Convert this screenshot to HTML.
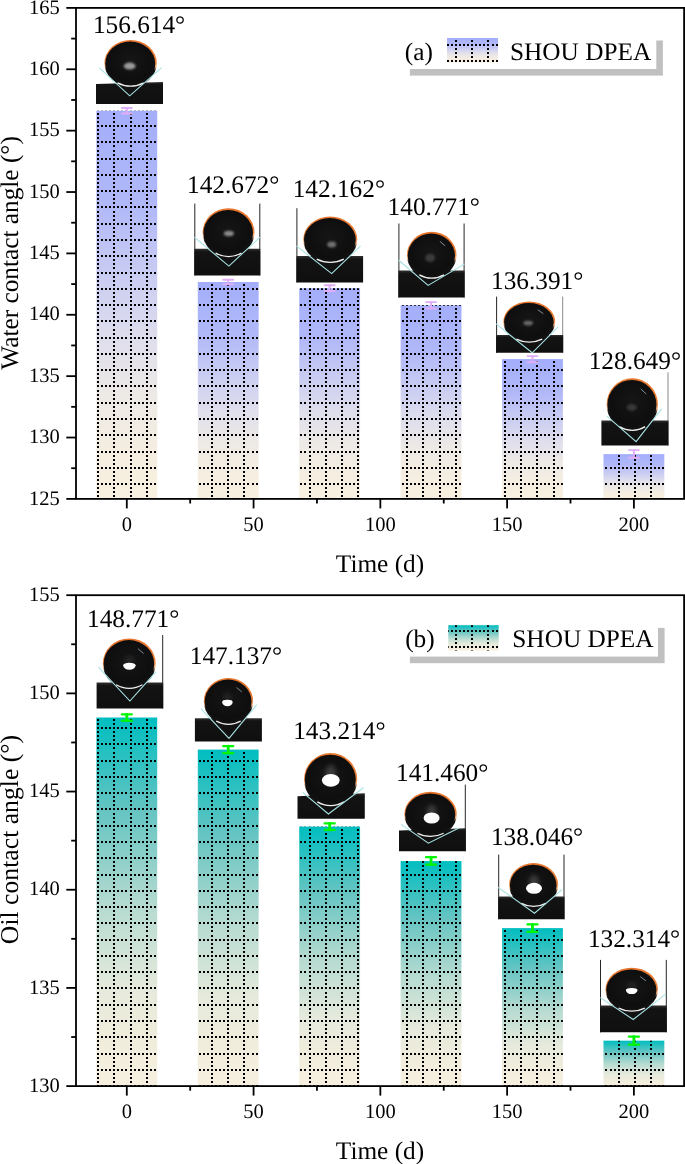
<!DOCTYPE html>
<html><head><meta charset="utf-8"><title>Contact angle</title>
<style>html,body{margin:0;padding:0;background:#fff;width:685px;height:1164px;overflow:hidden} text{text-rendering:geometricPrecision}</style>
</head><body>
<svg width="685" height="1164" viewBox="0 0 685 1164" style="display:block"><defs>
<pattern id="dots" patternUnits="userSpaceOnUse" x="-0.470" y="11.390" width="16.27" height="16.27"><g fill="#000"><rect x="0.000" y="0" width="1.7" height="1.7"/><rect x="4.067" y="0" width="1.7" height="1.7"/><rect x="8.135" y="0" width="1.7" height="1.7"/><rect x="12.203" y="0" width="1.7" height="1.7"/><rect x="0" y="4.067" width="1.7" height="1.7"/><rect x="0" y="8.135" width="1.7" height="1.7"/><rect x="0" y="12.203" width="1.7" height="1.7"/></g></pattern>
<linearGradient id="ga" x1="0" y1="0" x2="0" y2="1"><stop offset="0" stop-color="#a3adfb"/><stop offset="0.12" stop-color="#aab4fa"/><stop offset="0.24" stop-color="#b0b8f8"/><stop offset="0.476" stop-color="#d0d2f0"/><stop offset="0.6" stop-color="#e0dfec"/><stop offset="0.735" stop-color="#ede9e5"/><stop offset="0.89" stop-color="#f5eee1"/><stop offset="1" stop-color="#f8f1e0"/></linearGradient>
<linearGradient id="gb" x1="0" y1="0" x2="0" y2="1"><stop offset="0" stop-color="#00bec0"/><stop offset="0.25" stop-color="#64c4c2"/><stop offset="0.506" stop-color="#b4dad0"/><stop offset="0.74" stop-color="#e6eadc"/><stop offset="0.87" stop-color="#f0ecdb"/><stop offset="1" stop-color="#f7f0e0"/></linearGradient>
<filter id="blur1" x="-50%" y="-50%" width="200%" height="200%"><feGaussianBlur stdDeviation="1.2"/></filter>
<filter id="blur05" x="-50%" y="-50%" width="200%" height="200%"><feGaussianBlur stdDeviation="0.6"/></filter>
<radialGradient id="dropg" cx="0.5" cy="0.45" r="0.55"><stop offset="0" stop-color="#161616"/><stop offset="0.8" stop-color="#0e0e0e"/><stop offset="1" stop-color="#121212"/></radialGradient>
<linearGradient id="subg" x1="0" y1="0" x2="0" y2="1"><stop offset="0" stop-color="#303030"/><stop offset="0.12" stop-color="#131313"/><stop offset="1" stop-color="#0f0f0f"/></linearGradient>
<linearGradient id="rimg" x1="0" y1="0" x2="0" y2="1"><stop offset="0" stop-color="#e8732a"/><stop offset="0.45" stop-color="#ea7e34"/><stop offset="0.58" stop-color="#f0b080"/><stop offset="0.66" stop-color="#101010"/></linearGradient>
<filter id="blur2" x="-80%" y="-80%" width="260%" height="260%"><feGaussianBlur stdDeviation="2"/></filter>
<filter id="blur03" x="-50%" y="-50%" width="200%" height="200%"><feGaussianBlur stdDeviation="0.35"/></filter>
</defs>
<rect width="685" height="1164" fill="#fff"/>
<rect x="96.37" y="110.84" width="60.85" height="388.06" fill="url(#ga)"/>
<path d="M97 110.84h2v0.16h-2zM97 113h2v2h-2zM97 117h2v2h-2zM97 121h2v2h-2zM97 125h2v2h-2zM97 129h2v2h-2zM97 133h2v2h-2zM97 137h2v2h-2zM97 141h2v2h-2zM97 145h2v2h-2zM97 150h2v2h-2zM97 154h2v2h-2zM97 158h2v2h-2zM97 162h2v2h-2zM97 166h2v2h-2zM97 170h2v2h-2zM97 174h2v2h-2zM97 178h2v2h-2zM97 182h2v2h-2zM97 186h2v2h-2zM97 190h2v2h-2zM97 194h2v2h-2zM97 198h2v2h-2zM97 202h2v2h-2zM97 206h2v2h-2zM97 211h2v2h-2zM97 215h2v2h-2zM97 219h2v2h-2zM97 223h2v2h-2zM97 227h2v2h-2zM97 231h2v2h-2zM97 235h2v2h-2zM97 239h2v2h-2zM97 243h2v2h-2zM97 247h2v2h-2zM97 251h2v2h-2zM97 255h2v2h-2zM97 259h2v2h-2zM97 263h2v2h-2zM97 267h2v2h-2zM97 272h2v2h-2zM97 276h2v2h-2zM97 280h2v2h-2zM97 284h2v2h-2zM97 288h2v2h-2zM97 292h2v2h-2zM97 296h2v2h-2zM97 300h2v2h-2zM97 304h2v2h-2zM97 308h2v2h-2zM97 312h2v2h-2zM97 316h2v2h-2zM97 320h2v2h-2zM97 324h2v2h-2zM97 329h2v2h-2zM97 333h2v2h-2zM97 337h2v2h-2zM97 341h2v2h-2zM97 345h2v2h-2zM97 349h2v2h-2zM97 353h2v2h-2zM97 357h2v2h-2zM97 361h2v2h-2zM97 365h2v2h-2zM97 369h2v2h-2zM97 373h2v2h-2zM97 377h2v2h-2zM97 381h2v2h-2zM97 385h2v2h-2zM97 390h2v2h-2zM97 394h2v2h-2zM97 398h2v2h-2zM97 402h2v2h-2zM97 406h2v2h-2zM97 410h2v2h-2zM97 414h2v2h-2zM97 418h2v2h-2zM97 422h2v2h-2zM97 426h2v2h-2zM97 430h2v2h-2zM97 434h2v2h-2zM97 438h2v2h-2zM97 442h2v2h-2zM97 446h2v2h-2zM97 451h2v2h-2zM97 455h2v2h-2zM97 459h2v2h-2zM97 463h2v2h-2zM97 467h2v2h-2zM97 471h2v2h-2zM97 475h2v2h-2zM97 479h2v2h-2zM97 483h2v2h-2zM97 487h2v2h-2zM97 491h2v2h-2zM97 495h2v2h-2zM101 110.84h2v0.16h-2zM101 125h2v2h-2zM101 141h2v2h-2zM101 158h2v2h-2zM101 174h2v2h-2zM101 190h2v2h-2zM101 206h2v2h-2zM101 223h2v2h-2zM101 239h2v2h-2zM101 255h2v2h-2zM101 272h2v2h-2zM101 288h2v2h-2zM101 304h2v2h-2zM101 320h2v2h-2zM101 337h2v2h-2zM101 353h2v2h-2zM101 369h2v2h-2zM101 385h2v2h-2zM101 402h2v2h-2zM101 418h2v2h-2zM101 434h2v2h-2zM101 451h2v2h-2zM101 467h2v2h-2zM101 483h2v2h-2zM105 110.84h2v0.16h-2zM105 125h2v2h-2zM105 141h2v2h-2zM105 158h2v2h-2zM105 174h2v2h-2zM105 190h2v2h-2zM105 206h2v2h-2zM105 223h2v2h-2zM105 239h2v2h-2zM105 255h2v2h-2zM105 272h2v2h-2zM105 288h2v2h-2zM105 304h2v2h-2zM105 320h2v2h-2zM105 337h2v2h-2zM105 353h2v2h-2zM105 369h2v2h-2zM105 385h2v2h-2zM105 402h2v2h-2zM105 418h2v2h-2zM105 434h2v2h-2zM105 451h2v2h-2zM105 467h2v2h-2zM105 483h2v2h-2zM109 110.84h2v0.16h-2zM109 125h2v2h-2zM109 141h2v2h-2zM109 158h2v2h-2zM109 174h2v2h-2zM109 190h2v2h-2zM109 206h2v2h-2zM109 223h2v2h-2zM109 239h2v2h-2zM109 255h2v2h-2zM109 272h2v2h-2zM109 288h2v2h-2zM109 304h2v2h-2zM109 320h2v2h-2zM109 337h2v2h-2zM109 353h2v2h-2zM109 369h2v2h-2zM109 385h2v2h-2zM109 402h2v2h-2zM109 418h2v2h-2zM109 434h2v2h-2zM109 451h2v2h-2zM109 467h2v2h-2zM109 483h2v2h-2zM113 110.84h2v0.16h-2zM113 113h2v2h-2zM113 117h2v2h-2zM113 121h2v2h-2zM113 125h2v2h-2zM113 129h2v2h-2zM113 133h2v2h-2zM113 137h2v2h-2zM113 141h2v2h-2zM113 145h2v2h-2zM113 150h2v2h-2zM113 154h2v2h-2zM113 158h2v2h-2zM113 162h2v2h-2zM113 166h2v2h-2zM113 170h2v2h-2zM113 174h2v2h-2zM113 178h2v2h-2zM113 182h2v2h-2zM113 186h2v2h-2zM113 190h2v2h-2zM113 194h2v2h-2zM113 198h2v2h-2zM113 202h2v2h-2zM113 206h2v2h-2zM113 211h2v2h-2zM113 215h2v2h-2zM113 219h2v2h-2zM113 223h2v2h-2zM113 227h2v2h-2zM113 231h2v2h-2zM113 235h2v2h-2zM113 239h2v2h-2zM113 243h2v2h-2zM113 247h2v2h-2zM113 251h2v2h-2zM113 255h2v2h-2zM113 259h2v2h-2zM113 263h2v2h-2zM113 267h2v2h-2zM113 272h2v2h-2zM113 276h2v2h-2zM113 280h2v2h-2zM113 284h2v2h-2zM113 288h2v2h-2zM113 292h2v2h-2zM113 296h2v2h-2zM113 300h2v2h-2zM113 304h2v2h-2zM113 308h2v2h-2zM113 312h2v2h-2zM113 316h2v2h-2zM113 320h2v2h-2zM113 324h2v2h-2zM113 329h2v2h-2zM113 333h2v2h-2zM113 337h2v2h-2zM113 341h2v2h-2zM113 345h2v2h-2zM113 349h2v2h-2zM113 353h2v2h-2zM113 357h2v2h-2zM113 361h2v2h-2zM113 365h2v2h-2zM113 369h2v2h-2zM113 373h2v2h-2zM113 377h2v2h-2zM113 381h2v2h-2zM113 385h2v2h-2zM113 390h2v2h-2zM113 394h2v2h-2zM113 398h2v2h-2zM113 402h2v2h-2zM113 406h2v2h-2zM113 410h2v2h-2zM113 414h2v2h-2zM113 418h2v2h-2zM113 422h2v2h-2zM113 426h2v2h-2zM113 430h2v2h-2zM113 434h2v2h-2zM113 438h2v2h-2zM113 442h2v2h-2zM113 446h2v2h-2zM113 451h2v2h-2zM113 455h2v2h-2zM113 459h2v2h-2zM113 463h2v2h-2zM113 467h2v2h-2zM113 471h2v2h-2zM113 475h2v2h-2zM113 479h2v2h-2zM113 483h2v2h-2zM113 487h2v2h-2zM113 491h2v2h-2zM113 495h2v2h-2zM117 110.84h2v0.16h-2zM117 125h2v2h-2zM117 141h2v2h-2zM117 158h2v2h-2zM117 174h2v2h-2zM117 190h2v2h-2zM117 206h2v2h-2zM117 223h2v2h-2zM117 239h2v2h-2zM117 255h2v2h-2zM117 272h2v2h-2zM117 288h2v2h-2zM117 304h2v2h-2zM117 320h2v2h-2zM117 337h2v2h-2zM117 353h2v2h-2zM117 369h2v2h-2zM117 385h2v2h-2zM117 402h2v2h-2zM117 418h2v2h-2zM117 434h2v2h-2zM117 451h2v2h-2zM117 467h2v2h-2zM117 483h2v2h-2zM121 110.84h2v0.16h-2zM121 125h2v2h-2zM121 141h2v2h-2zM121 158h2v2h-2zM121 174h2v2h-2zM121 190h2v2h-2zM121 206h2v2h-2zM121 223h2v2h-2zM121 239h2v2h-2zM121 255h2v2h-2zM121 272h2v2h-2zM121 288h2v2h-2zM121 304h2v2h-2zM121 320h2v2h-2zM121 337h2v2h-2zM121 353h2v2h-2zM121 369h2v2h-2zM121 385h2v2h-2zM121 402h2v2h-2zM121 418h2v2h-2zM121 434h2v2h-2zM121 451h2v2h-2zM121 467h2v2h-2zM121 483h2v2h-2zM125 110.84h2v0.16h-2zM125 125h2v2h-2zM125 141h2v2h-2zM125 158h2v2h-2zM125 174h2v2h-2zM125 190h2v2h-2zM125 206h2v2h-2zM125 223h2v2h-2zM125 239h2v2h-2zM125 255h2v2h-2zM125 272h2v2h-2zM125 288h2v2h-2zM125 304h2v2h-2zM125 320h2v2h-2zM125 337h2v2h-2zM125 353h2v2h-2zM125 369h2v2h-2zM125 385h2v2h-2zM125 402h2v2h-2zM125 418h2v2h-2zM125 434h2v2h-2zM125 451h2v2h-2zM125 467h2v2h-2zM125 483h2v2h-2zM130 110.84h2v0.16h-2zM130 113h2v2h-2zM130 117h2v2h-2zM130 121h2v2h-2zM130 125h2v2h-2zM130 129h2v2h-2zM130 133h2v2h-2zM130 137h2v2h-2zM130 141h2v2h-2zM130 145h2v2h-2zM130 150h2v2h-2zM130 154h2v2h-2zM130 158h2v2h-2zM130 162h2v2h-2zM130 166h2v2h-2zM130 170h2v2h-2zM130 174h2v2h-2zM130 178h2v2h-2zM130 182h2v2h-2zM130 186h2v2h-2zM130 190h2v2h-2zM130 194h2v2h-2zM130 198h2v2h-2zM130 202h2v2h-2zM130 206h2v2h-2zM130 211h2v2h-2zM130 215h2v2h-2zM130 219h2v2h-2zM130 223h2v2h-2zM130 227h2v2h-2zM130 231h2v2h-2zM130 235h2v2h-2zM130 239h2v2h-2zM130 243h2v2h-2zM130 247h2v2h-2zM130 251h2v2h-2zM130 255h2v2h-2zM130 259h2v2h-2zM130 263h2v2h-2zM130 267h2v2h-2zM130 272h2v2h-2zM130 276h2v2h-2zM130 280h2v2h-2zM130 284h2v2h-2zM130 288h2v2h-2zM130 292h2v2h-2zM130 296h2v2h-2zM130 300h2v2h-2zM130 304h2v2h-2zM130 308h2v2h-2zM130 312h2v2h-2zM130 316h2v2h-2zM130 320h2v2h-2zM130 324h2v2h-2zM130 329h2v2h-2zM130 333h2v2h-2zM130 337h2v2h-2zM130 341h2v2h-2zM130 345h2v2h-2zM130 349h2v2h-2zM130 353h2v2h-2zM130 357h2v2h-2zM130 361h2v2h-2zM130 365h2v2h-2zM130 369h2v2h-2zM130 373h2v2h-2zM130 377h2v2h-2zM130 381h2v2h-2zM130 385h2v2h-2zM130 390h2v2h-2zM130 394h2v2h-2zM130 398h2v2h-2zM130 402h2v2h-2zM130 406h2v2h-2zM130 410h2v2h-2zM130 414h2v2h-2zM130 418h2v2h-2zM130 422h2v2h-2zM130 426h2v2h-2zM130 430h2v2h-2zM130 434h2v2h-2zM130 438h2v2h-2zM130 442h2v2h-2zM130 446h2v2h-2zM130 451h2v2h-2zM130 455h2v2h-2zM130 459h2v2h-2zM130 463h2v2h-2zM130 467h2v2h-2zM130 471h2v2h-2zM130 475h2v2h-2zM130 479h2v2h-2zM130 483h2v2h-2zM130 487h2v2h-2zM130 491h2v2h-2zM130 495h2v2h-2zM134 110.84h2v0.16h-2zM134 125h2v2h-2zM134 141h2v2h-2zM134 158h2v2h-2zM134 174h2v2h-2zM134 190h2v2h-2zM134 206h2v2h-2zM134 223h2v2h-2zM134 239h2v2h-2zM134 255h2v2h-2zM134 272h2v2h-2zM134 288h2v2h-2zM134 304h2v2h-2zM134 320h2v2h-2zM134 337h2v2h-2zM134 353h2v2h-2zM134 369h2v2h-2zM134 385h2v2h-2zM134 402h2v2h-2zM134 418h2v2h-2zM134 434h2v2h-2zM134 451h2v2h-2zM134 467h2v2h-2zM134 483h2v2h-2zM138 110.84h2v0.16h-2zM138 125h2v2h-2zM138 141h2v2h-2zM138 158h2v2h-2zM138 174h2v2h-2zM138 190h2v2h-2zM138 206h2v2h-2zM138 223h2v2h-2zM138 239h2v2h-2zM138 255h2v2h-2zM138 272h2v2h-2zM138 288h2v2h-2zM138 304h2v2h-2zM138 320h2v2h-2zM138 337h2v2h-2zM138 353h2v2h-2zM138 369h2v2h-2zM138 385h2v2h-2zM138 402h2v2h-2zM138 418h2v2h-2zM138 434h2v2h-2zM138 451h2v2h-2zM138 467h2v2h-2zM138 483h2v2h-2zM142 110.84h2v0.16h-2zM142 125h2v2h-2zM142 141h2v2h-2zM142 158h2v2h-2zM142 174h2v2h-2zM142 190h2v2h-2zM142 206h2v2h-2zM142 223h2v2h-2zM142 239h2v2h-2zM142 255h2v2h-2zM142 272h2v2h-2zM142 288h2v2h-2zM142 304h2v2h-2zM142 320h2v2h-2zM142 337h2v2h-2zM142 353h2v2h-2zM142 369h2v2h-2zM142 385h2v2h-2zM142 402h2v2h-2zM142 418h2v2h-2zM142 434h2v2h-2zM142 451h2v2h-2zM142 467h2v2h-2zM142 483h2v2h-2zM146 110.84h2v0.16h-2zM146 113h2v2h-2zM146 117h2v2h-2zM146 121h2v2h-2zM146 125h2v2h-2zM146 129h2v2h-2zM146 133h2v2h-2zM146 137h2v2h-2zM146 141h2v2h-2zM146 145h2v2h-2zM146 150h2v2h-2zM146 154h2v2h-2zM146 158h2v2h-2zM146 162h2v2h-2zM146 166h2v2h-2zM146 170h2v2h-2zM146 174h2v2h-2zM146 178h2v2h-2zM146 182h2v2h-2zM146 186h2v2h-2zM146 190h2v2h-2zM146 194h2v2h-2zM146 198h2v2h-2zM146 202h2v2h-2zM146 206h2v2h-2zM146 211h2v2h-2zM146 215h2v2h-2zM146 219h2v2h-2zM146 223h2v2h-2zM146 227h2v2h-2zM146 231h2v2h-2zM146 235h2v2h-2zM146 239h2v2h-2zM146 243h2v2h-2zM146 247h2v2h-2zM146 251h2v2h-2zM146 255h2v2h-2zM146 259h2v2h-2zM146 263h2v2h-2zM146 267h2v2h-2zM146 272h2v2h-2zM146 276h2v2h-2zM146 280h2v2h-2zM146 284h2v2h-2zM146 288h2v2h-2zM146 292h2v2h-2zM146 296h2v2h-2zM146 300h2v2h-2zM146 304h2v2h-2zM146 308h2v2h-2zM146 312h2v2h-2zM146 316h2v2h-2zM146 320h2v2h-2zM146 324h2v2h-2zM146 329h2v2h-2zM146 333h2v2h-2zM146 337h2v2h-2zM146 341h2v2h-2zM146 345h2v2h-2zM146 349h2v2h-2zM146 353h2v2h-2zM146 357h2v2h-2zM146 361h2v2h-2zM146 365h2v2h-2zM146 369h2v2h-2zM146 373h2v2h-2zM146 377h2v2h-2zM146 381h2v2h-2zM146 385h2v2h-2zM146 390h2v2h-2zM146 394h2v2h-2zM146 398h2v2h-2zM146 402h2v2h-2zM146 406h2v2h-2zM146 410h2v2h-2zM146 414h2v2h-2zM146 418h2v2h-2zM146 422h2v2h-2zM146 426h2v2h-2zM146 430h2v2h-2zM146 434h2v2h-2zM146 438h2v2h-2zM146 442h2v2h-2zM146 446h2v2h-2zM146 451h2v2h-2zM146 455h2v2h-2zM146 459h2v2h-2zM146 463h2v2h-2zM146 467h2v2h-2zM146 471h2v2h-2zM146 475h2v2h-2zM146 479h2v2h-2zM146 483h2v2h-2zM146 487h2v2h-2zM146 491h2v2h-2zM146 495h2v2h-2zM150 110.84h2v0.16h-2zM150 125h2v2h-2zM150 141h2v2h-2zM150 158h2v2h-2zM150 174h2v2h-2zM150 190h2v2h-2zM150 206h2v2h-2zM150 223h2v2h-2zM150 239h2v2h-2zM150 255h2v2h-2zM150 272h2v2h-2zM150 288h2v2h-2zM150 304h2v2h-2zM150 320h2v2h-2zM150 337h2v2h-2zM150 353h2v2h-2zM150 369h2v2h-2zM150 385h2v2h-2zM150 402h2v2h-2zM150 418h2v2h-2zM150 434h2v2h-2zM150 451h2v2h-2zM150 467h2v2h-2zM150 483h2v2h-2zM154 110.84h2v0.16h-2zM154 125h2v2h-2zM154 141h2v2h-2zM154 158h2v2h-2zM154 174h2v2h-2zM154 190h2v2h-2zM154 206h2v2h-2zM154 223h2v2h-2zM154 239h2v2h-2zM154 255h2v2h-2zM154 272h2v2h-2zM154 288h2v2h-2zM154 304h2v2h-2zM154 320h2v2h-2zM154 337h2v2h-2zM154 353h2v2h-2zM154 369h2v2h-2zM154 385h2v2h-2zM154 402h2v2h-2zM154 418h2v2h-2zM154 434h2v2h-2zM154 451h2v2h-2zM154 467h2v2h-2zM154 483h2v2h-2z" fill="#000"/>
<rect x="197.79" y="281.98" width="60.85" height="216.92" fill="url(#ga)"/>
<path d="M199 288h2v2h-2zM199 304h2v2h-2zM199 320h2v2h-2zM199 337h2v2h-2zM199 353h2v2h-2zM199 369h2v2h-2zM199 385h2v2h-2zM199 402h2v2h-2zM199 418h2v2h-2zM199 434h2v2h-2zM199 451h2v2h-2zM199 467h2v2h-2zM199 483h2v2h-2zM203 288h2v2h-2zM203 304h2v2h-2zM203 320h2v2h-2zM203 337h2v2h-2zM203 353h2v2h-2zM203 369h2v2h-2zM203 385h2v2h-2zM203 402h2v2h-2zM203 418h2v2h-2zM203 434h2v2h-2zM203 451h2v2h-2zM203 467h2v2h-2zM203 483h2v2h-2zM207 288h2v2h-2zM207 304h2v2h-2zM207 320h2v2h-2zM207 337h2v2h-2zM207 353h2v2h-2zM207 369h2v2h-2zM207 385h2v2h-2zM207 402h2v2h-2zM207 418h2v2h-2zM207 434h2v2h-2zM207 451h2v2h-2zM207 467h2v2h-2zM207 483h2v2h-2zM211 284h2v2h-2zM211 288h2v2h-2zM211 292h2v2h-2zM211 296h2v2h-2zM211 300h2v2h-2zM211 304h2v2h-2zM211 308h2v2h-2zM211 312h2v2h-2zM211 316h2v2h-2zM211 320h2v2h-2zM211 324h2v2h-2zM211 329h2v2h-2zM211 333h2v2h-2zM211 337h2v2h-2zM211 341h2v2h-2zM211 345h2v2h-2zM211 349h2v2h-2zM211 353h2v2h-2zM211 357h2v2h-2zM211 361h2v2h-2zM211 365h2v2h-2zM211 369h2v2h-2zM211 373h2v2h-2zM211 377h2v2h-2zM211 381h2v2h-2zM211 385h2v2h-2zM211 390h2v2h-2zM211 394h2v2h-2zM211 398h2v2h-2zM211 402h2v2h-2zM211 406h2v2h-2zM211 410h2v2h-2zM211 414h2v2h-2zM211 418h2v2h-2zM211 422h2v2h-2zM211 426h2v2h-2zM211 430h2v2h-2zM211 434h2v2h-2zM211 438h2v2h-2zM211 442h2v2h-2zM211 446h2v2h-2zM211 451h2v2h-2zM211 455h2v2h-2zM211 459h2v2h-2zM211 463h2v2h-2zM211 467h2v2h-2zM211 471h2v2h-2zM211 475h2v2h-2zM211 479h2v2h-2zM211 483h2v2h-2zM211 487h2v2h-2zM211 491h2v2h-2zM211 495h2v2h-2zM215 288h2v2h-2zM215 304h2v2h-2zM215 320h2v2h-2zM215 337h2v2h-2zM215 353h2v2h-2zM215 369h2v2h-2zM215 385h2v2h-2zM215 402h2v2h-2zM215 418h2v2h-2zM215 434h2v2h-2zM215 451h2v2h-2zM215 467h2v2h-2zM215 483h2v2h-2zM219 288h2v2h-2zM219 304h2v2h-2zM219 320h2v2h-2zM219 337h2v2h-2zM219 353h2v2h-2zM219 369h2v2h-2zM219 385h2v2h-2zM219 402h2v2h-2zM219 418h2v2h-2zM219 434h2v2h-2zM219 451h2v2h-2zM219 467h2v2h-2zM219 483h2v2h-2zM223 288h2v2h-2zM223 304h2v2h-2zM223 320h2v2h-2zM223 337h2v2h-2zM223 353h2v2h-2zM223 369h2v2h-2zM223 385h2v2h-2zM223 402h2v2h-2zM223 418h2v2h-2zM223 434h2v2h-2zM223 451h2v2h-2zM223 467h2v2h-2zM223 483h2v2h-2zM227 284h2v2h-2zM227 288h2v2h-2zM227 292h2v2h-2zM227 296h2v2h-2zM227 300h2v2h-2zM227 304h2v2h-2zM227 308h2v2h-2zM227 312h2v2h-2zM227 316h2v2h-2zM227 320h2v2h-2zM227 324h2v2h-2zM227 329h2v2h-2zM227 333h2v2h-2zM227 337h2v2h-2zM227 341h2v2h-2zM227 345h2v2h-2zM227 349h2v2h-2zM227 353h2v2h-2zM227 357h2v2h-2zM227 361h2v2h-2zM227 365h2v2h-2zM227 369h2v2h-2zM227 373h2v2h-2zM227 377h2v2h-2zM227 381h2v2h-2zM227 385h2v2h-2zM227 390h2v2h-2zM227 394h2v2h-2zM227 398h2v2h-2zM227 402h2v2h-2zM227 406h2v2h-2zM227 410h2v2h-2zM227 414h2v2h-2zM227 418h2v2h-2zM227 422h2v2h-2zM227 426h2v2h-2zM227 430h2v2h-2zM227 434h2v2h-2zM227 438h2v2h-2zM227 442h2v2h-2zM227 446h2v2h-2zM227 451h2v2h-2zM227 455h2v2h-2zM227 459h2v2h-2zM227 463h2v2h-2zM227 467h2v2h-2zM227 471h2v2h-2zM227 475h2v2h-2zM227 479h2v2h-2zM227 483h2v2h-2zM227 487h2v2h-2zM227 491h2v2h-2zM227 495h2v2h-2zM231 288h2v2h-2zM231 304h2v2h-2zM231 320h2v2h-2zM231 337h2v2h-2zM231 353h2v2h-2zM231 369h2v2h-2zM231 385h2v2h-2zM231 402h2v2h-2zM231 418h2v2h-2zM231 434h2v2h-2zM231 451h2v2h-2zM231 467h2v2h-2zM231 483h2v2h-2zM235 288h2v2h-2zM235 304h2v2h-2zM235 320h2v2h-2zM235 337h2v2h-2zM235 353h2v2h-2zM235 369h2v2h-2zM235 385h2v2h-2zM235 402h2v2h-2zM235 418h2v2h-2zM235 434h2v2h-2zM235 451h2v2h-2zM235 467h2v2h-2zM235 483h2v2h-2zM239 288h2v2h-2zM239 304h2v2h-2zM239 320h2v2h-2zM239 337h2v2h-2zM239 353h2v2h-2zM239 369h2v2h-2zM239 385h2v2h-2zM239 402h2v2h-2zM239 418h2v2h-2zM239 434h2v2h-2zM239 451h2v2h-2zM239 467h2v2h-2zM239 483h2v2h-2zM243 284h2v2h-2zM243 288h2v2h-2zM243 292h2v2h-2zM243 296h2v2h-2zM243 300h2v2h-2zM243 304h2v2h-2zM243 308h2v2h-2zM243 312h2v2h-2zM243 316h2v2h-2zM243 320h2v2h-2zM243 324h2v2h-2zM243 329h2v2h-2zM243 333h2v2h-2zM243 337h2v2h-2zM243 341h2v2h-2zM243 345h2v2h-2zM243 349h2v2h-2zM243 353h2v2h-2zM243 357h2v2h-2zM243 361h2v2h-2zM243 365h2v2h-2zM243 369h2v2h-2zM243 373h2v2h-2zM243 377h2v2h-2zM243 381h2v2h-2zM243 385h2v2h-2zM243 390h2v2h-2zM243 394h2v2h-2zM243 398h2v2h-2zM243 402h2v2h-2zM243 406h2v2h-2zM243 410h2v2h-2zM243 414h2v2h-2zM243 418h2v2h-2zM243 422h2v2h-2zM243 426h2v2h-2zM243 430h2v2h-2zM243 434h2v2h-2zM243 438h2v2h-2zM243 442h2v2h-2zM243 446h2v2h-2zM243 451h2v2h-2zM243 455h2v2h-2zM243 459h2v2h-2zM243 463h2v2h-2zM243 467h2v2h-2zM243 471h2v2h-2zM243 475h2v2h-2zM243 479h2v2h-2zM243 483h2v2h-2zM243 487h2v2h-2zM243 491h2v2h-2zM243 495h2v2h-2zM247 288h2v2h-2zM247 304h2v2h-2zM247 320h2v2h-2zM247 337h2v2h-2zM247 353h2v2h-2zM247 369h2v2h-2zM247 385h2v2h-2zM247 402h2v2h-2zM247 418h2v2h-2zM247 434h2v2h-2zM247 451h2v2h-2zM247 467h2v2h-2zM247 483h2v2h-2zM252 288h2v2h-2zM252 304h2v2h-2zM252 320h2v2h-2zM252 337h2v2h-2zM252 353h2v2h-2zM252 369h2v2h-2zM252 385h2v2h-2zM252 402h2v2h-2zM252 418h2v2h-2zM252 434h2v2h-2zM252 451h2v2h-2zM252 467h2v2h-2zM252 483h2v2h-2zM256 288h2v2h-2zM256 304h2v2h-2zM256 320h2v2h-2zM256 337h2v2h-2zM256 353h2v2h-2zM256 369h2v2h-2zM256 385h2v2h-2zM256 402h2v2h-2zM256 418h2v2h-2zM256 434h2v2h-2zM256 451h2v2h-2zM256 467h2v2h-2zM256 483h2v2h-2z" fill="#000"/>
<rect x="299.21" y="288.24" width="60.85" height="210.66" fill="url(#ga)"/>
<path d="M300 288.24h2v1.76h-2zM300 304h2v2h-2zM300 320h2v2h-2zM300 337h2v2h-2zM300 353h2v2h-2zM300 369h2v2h-2zM300 385h2v2h-2zM300 402h2v2h-2zM300 418h2v2h-2zM300 434h2v2h-2zM300 451h2v2h-2zM300 467h2v2h-2zM300 483h2v2h-2zM304 288.24h2v1.76h-2zM304 304h2v2h-2zM304 320h2v2h-2zM304 337h2v2h-2zM304 353h2v2h-2zM304 369h2v2h-2zM304 385h2v2h-2zM304 402h2v2h-2zM304 418h2v2h-2zM304 434h2v2h-2zM304 451h2v2h-2zM304 467h2v2h-2zM304 483h2v2h-2zM309 288.24h2v1.76h-2zM309 292h2v2h-2zM309 296h2v2h-2zM309 300h2v2h-2zM309 304h2v2h-2zM309 308h2v2h-2zM309 312h2v2h-2zM309 316h2v2h-2zM309 320h2v2h-2zM309 324h2v2h-2zM309 329h2v2h-2zM309 333h2v2h-2zM309 337h2v2h-2zM309 341h2v2h-2zM309 345h2v2h-2zM309 349h2v2h-2zM309 353h2v2h-2zM309 357h2v2h-2zM309 361h2v2h-2zM309 365h2v2h-2zM309 369h2v2h-2zM309 373h2v2h-2zM309 377h2v2h-2zM309 381h2v2h-2zM309 385h2v2h-2zM309 390h2v2h-2zM309 394h2v2h-2zM309 398h2v2h-2zM309 402h2v2h-2zM309 406h2v2h-2zM309 410h2v2h-2zM309 414h2v2h-2zM309 418h2v2h-2zM309 422h2v2h-2zM309 426h2v2h-2zM309 430h2v2h-2zM309 434h2v2h-2zM309 438h2v2h-2zM309 442h2v2h-2zM309 446h2v2h-2zM309 451h2v2h-2zM309 455h2v2h-2zM309 459h2v2h-2zM309 463h2v2h-2zM309 467h2v2h-2zM309 471h2v2h-2zM309 475h2v2h-2zM309 479h2v2h-2zM309 483h2v2h-2zM309 487h2v2h-2zM309 491h2v2h-2zM309 495h2v2h-2zM313 288.24h2v1.76h-2zM313 304h2v2h-2zM313 320h2v2h-2zM313 337h2v2h-2zM313 353h2v2h-2zM313 369h2v2h-2zM313 385h2v2h-2zM313 402h2v2h-2zM313 418h2v2h-2zM313 434h2v2h-2zM313 451h2v2h-2zM313 467h2v2h-2zM313 483h2v2h-2zM317 288.24h2v1.76h-2zM317 304h2v2h-2zM317 320h2v2h-2zM317 337h2v2h-2zM317 353h2v2h-2zM317 369h2v2h-2zM317 385h2v2h-2zM317 402h2v2h-2zM317 418h2v2h-2zM317 434h2v2h-2zM317 451h2v2h-2zM317 467h2v2h-2zM317 483h2v2h-2zM321 288.24h2v1.76h-2zM321 304h2v2h-2zM321 320h2v2h-2zM321 337h2v2h-2zM321 353h2v2h-2zM321 369h2v2h-2zM321 385h2v2h-2zM321 402h2v2h-2zM321 418h2v2h-2zM321 434h2v2h-2zM321 451h2v2h-2zM321 467h2v2h-2zM321 483h2v2h-2zM325 288.24h2v1.76h-2zM325 292h2v2h-2zM325 296h2v2h-2zM325 300h2v2h-2zM325 304h2v2h-2zM325 308h2v2h-2zM325 312h2v2h-2zM325 316h2v2h-2zM325 320h2v2h-2zM325 324h2v2h-2zM325 329h2v2h-2zM325 333h2v2h-2zM325 337h2v2h-2zM325 341h2v2h-2zM325 345h2v2h-2zM325 349h2v2h-2zM325 353h2v2h-2zM325 357h2v2h-2zM325 361h2v2h-2zM325 365h2v2h-2zM325 369h2v2h-2zM325 373h2v2h-2zM325 377h2v2h-2zM325 381h2v2h-2zM325 385h2v2h-2zM325 390h2v2h-2zM325 394h2v2h-2zM325 398h2v2h-2zM325 402h2v2h-2zM325 406h2v2h-2zM325 410h2v2h-2zM325 414h2v2h-2zM325 418h2v2h-2zM325 422h2v2h-2zM325 426h2v2h-2zM325 430h2v2h-2zM325 434h2v2h-2zM325 438h2v2h-2zM325 442h2v2h-2zM325 446h2v2h-2zM325 451h2v2h-2zM325 455h2v2h-2zM325 459h2v2h-2zM325 463h2v2h-2zM325 467h2v2h-2zM325 471h2v2h-2zM325 475h2v2h-2zM325 479h2v2h-2zM325 483h2v2h-2zM325 487h2v2h-2zM325 491h2v2h-2zM325 495h2v2h-2zM329 288.24h2v1.76h-2zM329 304h2v2h-2zM329 320h2v2h-2zM329 337h2v2h-2zM329 353h2v2h-2zM329 369h2v2h-2zM329 385h2v2h-2zM329 402h2v2h-2zM329 418h2v2h-2zM329 434h2v2h-2zM329 451h2v2h-2zM329 467h2v2h-2zM329 483h2v2h-2zM333 288.24h2v1.76h-2zM333 304h2v2h-2zM333 320h2v2h-2zM333 337h2v2h-2zM333 353h2v2h-2zM333 369h2v2h-2zM333 385h2v2h-2zM333 402h2v2h-2zM333 418h2v2h-2zM333 434h2v2h-2zM333 451h2v2h-2zM333 467h2v2h-2zM333 483h2v2h-2zM337 288.24h2v1.76h-2zM337 304h2v2h-2zM337 320h2v2h-2zM337 337h2v2h-2zM337 353h2v2h-2zM337 369h2v2h-2zM337 385h2v2h-2zM337 402h2v2h-2zM337 418h2v2h-2zM337 434h2v2h-2zM337 451h2v2h-2zM337 467h2v2h-2zM337 483h2v2h-2zM341 288.24h2v1.76h-2zM341 292h2v2h-2zM341 296h2v2h-2zM341 300h2v2h-2zM341 304h2v2h-2zM341 308h2v2h-2zM341 312h2v2h-2zM341 316h2v2h-2zM341 320h2v2h-2zM341 324h2v2h-2zM341 329h2v2h-2zM341 333h2v2h-2zM341 337h2v2h-2zM341 341h2v2h-2zM341 345h2v2h-2zM341 349h2v2h-2zM341 353h2v2h-2zM341 357h2v2h-2zM341 361h2v2h-2zM341 365h2v2h-2zM341 369h2v2h-2zM341 373h2v2h-2zM341 377h2v2h-2zM341 381h2v2h-2zM341 385h2v2h-2zM341 390h2v2h-2zM341 394h2v2h-2zM341 398h2v2h-2zM341 402h2v2h-2zM341 406h2v2h-2zM341 410h2v2h-2zM341 414h2v2h-2zM341 418h2v2h-2zM341 422h2v2h-2zM341 426h2v2h-2zM341 430h2v2h-2zM341 434h2v2h-2zM341 438h2v2h-2zM341 442h2v2h-2zM341 446h2v2h-2zM341 451h2v2h-2zM341 455h2v2h-2zM341 459h2v2h-2zM341 463h2v2h-2zM341 467h2v2h-2zM341 471h2v2h-2zM341 475h2v2h-2zM341 479h2v2h-2zM341 483h2v2h-2zM341 487h2v2h-2zM341 491h2v2h-2zM341 495h2v2h-2zM345 288.24h2v1.76h-2zM345 304h2v2h-2zM345 320h2v2h-2zM345 337h2v2h-2zM345 353h2v2h-2zM345 369h2v2h-2zM345 385h2v2h-2zM345 402h2v2h-2zM345 418h2v2h-2zM345 434h2v2h-2zM345 451h2v2h-2zM345 467h2v2h-2zM345 483h2v2h-2zM349 288.24h2v1.76h-2zM349 304h2v2h-2zM349 320h2v2h-2zM349 337h2v2h-2zM349 353h2v2h-2zM349 369h2v2h-2zM349 385h2v2h-2zM349 402h2v2h-2zM349 418h2v2h-2zM349 434h2v2h-2zM349 451h2v2h-2zM349 467h2v2h-2zM349 483h2v2h-2zM353 288.24h2v1.76h-2zM353 304h2v2h-2zM353 320h2v2h-2zM353 337h2v2h-2zM353 353h2v2h-2zM353 369h2v2h-2zM353 385h2v2h-2zM353 402h2v2h-2zM353 418h2v2h-2zM353 434h2v2h-2zM353 451h2v2h-2zM353 467h2v2h-2zM353 483h2v2h-2zM357 288.24h2v1.76h-2zM357 292h2v2h-2zM357 296h2v2h-2zM357 300h2v2h-2zM357 304h2v2h-2zM357 308h2v2h-2zM357 312h2v2h-2zM357 316h2v2h-2zM357 320h2v2h-2zM357 324h2v2h-2zM357 329h2v2h-2zM357 333h2v2h-2zM357 337h2v2h-2zM357 341h2v2h-2zM357 345h2v2h-2zM357 349h2v2h-2zM357 353h2v2h-2zM357 357h2v2h-2zM357 361h2v2h-2zM357 365h2v2h-2zM357 369h2v2h-2zM357 373h2v2h-2zM357 377h2v2h-2zM357 381h2v2h-2zM357 385h2v2h-2zM357 390h2v2h-2zM357 394h2v2h-2zM357 398h2v2h-2zM357 402h2v2h-2zM357 406h2v2h-2zM357 410h2v2h-2zM357 414h2v2h-2zM357 418h2v2h-2zM357 422h2v2h-2zM357 426h2v2h-2zM357 430h2v2h-2zM357 434h2v2h-2zM357 438h2v2h-2zM357 442h2v2h-2zM357 446h2v2h-2zM357 451h2v2h-2zM357 455h2v2h-2zM357 459h2v2h-2zM357 463h2v2h-2zM357 467h2v2h-2zM357 471h2v2h-2zM357 475h2v2h-2zM357 479h2v2h-2zM357 483h2v2h-2zM357 487h2v2h-2zM357 491h2v2h-2zM357 495h2v2h-2z" fill="#000"/>
<rect x="400.63" y="305.31" width="60.85" height="193.59" fill="url(#ga)"/>
<path d="M402 305.31h2v0.69h-2zM402 320h2v2h-2zM402 337h2v2h-2zM402 353h2v2h-2zM402 369h2v2h-2zM402 385h2v2h-2zM402 402h2v2h-2zM402 418h2v2h-2zM402 434h2v2h-2zM402 451h2v2h-2zM402 467h2v2h-2zM402 483h2v2h-2zM406 305.31h2v0.69h-2zM406 308h2v2h-2zM406 312h2v2h-2zM406 316h2v2h-2zM406 320h2v2h-2zM406 324h2v2h-2zM406 329h2v2h-2zM406 333h2v2h-2zM406 337h2v2h-2zM406 341h2v2h-2zM406 345h2v2h-2zM406 349h2v2h-2zM406 353h2v2h-2zM406 357h2v2h-2zM406 361h2v2h-2zM406 365h2v2h-2zM406 369h2v2h-2zM406 373h2v2h-2zM406 377h2v2h-2zM406 381h2v2h-2zM406 385h2v2h-2zM406 390h2v2h-2zM406 394h2v2h-2zM406 398h2v2h-2zM406 402h2v2h-2zM406 406h2v2h-2zM406 410h2v2h-2zM406 414h2v2h-2zM406 418h2v2h-2zM406 422h2v2h-2zM406 426h2v2h-2zM406 430h2v2h-2zM406 434h2v2h-2zM406 438h2v2h-2zM406 442h2v2h-2zM406 446h2v2h-2zM406 451h2v2h-2zM406 455h2v2h-2zM406 459h2v2h-2zM406 463h2v2h-2zM406 467h2v2h-2zM406 471h2v2h-2zM406 475h2v2h-2zM406 479h2v2h-2zM406 483h2v2h-2zM406 487h2v2h-2zM406 491h2v2h-2zM406 495h2v2h-2zM410 305.31h2v0.69h-2zM410 320h2v2h-2zM410 337h2v2h-2zM410 353h2v2h-2zM410 369h2v2h-2zM410 385h2v2h-2zM410 402h2v2h-2zM410 418h2v2h-2zM410 434h2v2h-2zM410 451h2v2h-2zM410 467h2v2h-2zM410 483h2v2h-2zM414 305.31h2v0.69h-2zM414 320h2v2h-2zM414 337h2v2h-2zM414 353h2v2h-2zM414 369h2v2h-2zM414 385h2v2h-2zM414 402h2v2h-2zM414 418h2v2h-2zM414 434h2v2h-2zM414 451h2v2h-2zM414 467h2v2h-2zM414 483h2v2h-2zM418 305.31h2v0.69h-2zM418 320h2v2h-2zM418 337h2v2h-2zM418 353h2v2h-2zM418 369h2v2h-2zM418 385h2v2h-2zM418 402h2v2h-2zM418 418h2v2h-2zM418 434h2v2h-2zM418 451h2v2h-2zM418 467h2v2h-2zM418 483h2v2h-2zM422 305.31h2v0.69h-2zM422 308h2v2h-2zM422 312h2v2h-2zM422 316h2v2h-2zM422 320h2v2h-2zM422 324h2v2h-2zM422 329h2v2h-2zM422 333h2v2h-2zM422 337h2v2h-2zM422 341h2v2h-2zM422 345h2v2h-2zM422 349h2v2h-2zM422 353h2v2h-2zM422 357h2v2h-2zM422 361h2v2h-2zM422 365h2v2h-2zM422 369h2v2h-2zM422 373h2v2h-2zM422 377h2v2h-2zM422 381h2v2h-2zM422 385h2v2h-2zM422 390h2v2h-2zM422 394h2v2h-2zM422 398h2v2h-2zM422 402h2v2h-2zM422 406h2v2h-2zM422 410h2v2h-2zM422 414h2v2h-2zM422 418h2v2h-2zM422 422h2v2h-2zM422 426h2v2h-2zM422 430h2v2h-2zM422 434h2v2h-2zM422 438h2v2h-2zM422 442h2v2h-2zM422 446h2v2h-2zM422 451h2v2h-2zM422 455h2v2h-2zM422 459h2v2h-2zM422 463h2v2h-2zM422 467h2v2h-2zM422 471h2v2h-2zM422 475h2v2h-2zM422 479h2v2h-2zM422 483h2v2h-2zM422 487h2v2h-2zM422 491h2v2h-2zM422 495h2v2h-2zM426 305.31h2v0.69h-2zM426 320h2v2h-2zM426 337h2v2h-2zM426 353h2v2h-2zM426 369h2v2h-2zM426 385h2v2h-2zM426 402h2v2h-2zM426 418h2v2h-2zM426 434h2v2h-2zM426 451h2v2h-2zM426 467h2v2h-2zM426 483h2v2h-2zM431 305.31h2v0.69h-2zM431 320h2v2h-2zM431 337h2v2h-2zM431 353h2v2h-2zM431 369h2v2h-2zM431 385h2v2h-2zM431 402h2v2h-2zM431 418h2v2h-2zM431 434h2v2h-2zM431 451h2v2h-2zM431 467h2v2h-2zM431 483h2v2h-2zM435 305.31h2v0.69h-2zM435 320h2v2h-2zM435 337h2v2h-2zM435 353h2v2h-2zM435 369h2v2h-2zM435 385h2v2h-2zM435 402h2v2h-2zM435 418h2v2h-2zM435 434h2v2h-2zM435 451h2v2h-2zM435 467h2v2h-2zM435 483h2v2h-2zM439 305.31h2v0.69h-2zM439 308h2v2h-2zM439 312h2v2h-2zM439 316h2v2h-2zM439 320h2v2h-2zM439 324h2v2h-2zM439 329h2v2h-2zM439 333h2v2h-2zM439 337h2v2h-2zM439 341h2v2h-2zM439 345h2v2h-2zM439 349h2v2h-2zM439 353h2v2h-2zM439 357h2v2h-2zM439 361h2v2h-2zM439 365h2v2h-2zM439 369h2v2h-2zM439 373h2v2h-2zM439 377h2v2h-2zM439 381h2v2h-2zM439 385h2v2h-2zM439 390h2v2h-2zM439 394h2v2h-2zM439 398h2v2h-2zM439 402h2v2h-2zM439 406h2v2h-2zM439 410h2v2h-2zM439 414h2v2h-2zM439 418h2v2h-2zM439 422h2v2h-2zM439 426h2v2h-2zM439 430h2v2h-2zM439 434h2v2h-2zM439 438h2v2h-2zM439 442h2v2h-2zM439 446h2v2h-2zM439 451h2v2h-2zM439 455h2v2h-2zM439 459h2v2h-2zM439 463h2v2h-2zM439 467h2v2h-2zM439 471h2v2h-2zM439 475h2v2h-2zM439 479h2v2h-2zM439 483h2v2h-2zM439 487h2v2h-2zM439 491h2v2h-2zM439 495h2v2h-2zM443 305.31h2v0.69h-2zM443 320h2v2h-2zM443 337h2v2h-2zM443 353h2v2h-2zM443 369h2v2h-2zM443 385h2v2h-2zM443 402h2v2h-2zM443 418h2v2h-2zM443 434h2v2h-2zM443 451h2v2h-2zM443 467h2v2h-2zM443 483h2v2h-2zM447 305.31h2v0.69h-2zM447 320h2v2h-2zM447 337h2v2h-2zM447 353h2v2h-2zM447 369h2v2h-2zM447 385h2v2h-2zM447 402h2v2h-2zM447 418h2v2h-2zM447 434h2v2h-2zM447 451h2v2h-2zM447 467h2v2h-2zM447 483h2v2h-2zM451 305.31h2v0.69h-2zM451 320h2v2h-2zM451 337h2v2h-2zM451 353h2v2h-2zM451 369h2v2h-2zM451 385h2v2h-2zM451 402h2v2h-2zM451 418h2v2h-2zM451 434h2v2h-2zM451 451h2v2h-2zM451 467h2v2h-2zM451 483h2v2h-2zM455 305.31h2v0.69h-2zM455 308h2v2h-2zM455 312h2v2h-2zM455 316h2v2h-2zM455 320h2v2h-2zM455 324h2v2h-2zM455 329h2v2h-2zM455 333h2v2h-2zM455 337h2v2h-2zM455 341h2v2h-2zM455 345h2v2h-2zM455 349h2v2h-2zM455 353h2v2h-2zM455 357h2v2h-2zM455 361h2v2h-2zM455 365h2v2h-2zM455 369h2v2h-2zM455 373h2v2h-2zM455 377h2v2h-2zM455 381h2v2h-2zM455 385h2v2h-2zM455 390h2v2h-2zM455 394h2v2h-2zM455 398h2v2h-2zM455 402h2v2h-2zM455 406h2v2h-2zM455 410h2v2h-2zM455 414h2v2h-2zM455 418h2v2h-2zM455 422h2v2h-2zM455 426h2v2h-2zM455 430h2v2h-2zM455 434h2v2h-2zM455 438h2v2h-2zM455 442h2v2h-2zM455 446h2v2h-2zM455 451h2v2h-2zM455 455h2v2h-2zM455 459h2v2h-2zM455 463h2v2h-2zM455 467h2v2h-2zM455 471h2v2h-2zM455 475h2v2h-2zM455 479h2v2h-2zM455 483h2v2h-2zM455 487h2v2h-2zM455 491h2v2h-2zM455 495h2v2h-2zM459 305.31h2v0.69h-2zM459 320h2v2h-2zM459 337h2v2h-2zM459 353h2v2h-2zM459 369h2v2h-2zM459 385h2v2h-2zM459 402h2v2h-2zM459 418h2v2h-2zM459 434h2v2h-2zM459 451h2v2h-2zM459 467h2v2h-2zM459 483h2v2h-2z" fill="#000"/>
<rect x="502.05" y="359.08" width="60.85" height="139.82" fill="url(#ga)"/>
<path d="M504 361h2v2h-2zM504 365h2v2h-2zM504 369h2v2h-2zM504 373h2v2h-2zM504 377h2v2h-2zM504 381h2v2h-2zM504 385h2v2h-2zM504 390h2v2h-2zM504 394h2v2h-2zM504 398h2v2h-2zM504 402h2v2h-2zM504 406h2v2h-2zM504 410h2v2h-2zM504 414h2v2h-2zM504 418h2v2h-2zM504 422h2v2h-2zM504 426h2v2h-2zM504 430h2v2h-2zM504 434h2v2h-2zM504 438h2v2h-2zM504 442h2v2h-2zM504 446h2v2h-2zM504 451h2v2h-2zM504 455h2v2h-2zM504 459h2v2h-2zM504 463h2v2h-2zM504 467h2v2h-2zM504 471h2v2h-2zM504 475h2v2h-2zM504 479h2v2h-2zM504 483h2v2h-2zM504 487h2v2h-2zM504 491h2v2h-2zM504 495h2v2h-2zM508 369h2v2h-2zM508 385h2v2h-2zM508 402h2v2h-2zM508 418h2v2h-2zM508 434h2v2h-2zM508 451h2v2h-2zM508 467h2v2h-2zM508 483h2v2h-2zM512 369h2v2h-2zM512 385h2v2h-2zM512 402h2v2h-2zM512 418h2v2h-2zM512 434h2v2h-2zM512 451h2v2h-2zM512 467h2v2h-2zM512 483h2v2h-2zM516 369h2v2h-2zM516 385h2v2h-2zM516 402h2v2h-2zM516 418h2v2h-2zM516 434h2v2h-2zM516 451h2v2h-2zM516 467h2v2h-2zM516 483h2v2h-2zM520 361h2v2h-2zM520 365h2v2h-2zM520 369h2v2h-2zM520 373h2v2h-2zM520 377h2v2h-2zM520 381h2v2h-2zM520 385h2v2h-2zM520 390h2v2h-2zM520 394h2v2h-2zM520 398h2v2h-2zM520 402h2v2h-2zM520 406h2v2h-2zM520 410h2v2h-2zM520 414h2v2h-2zM520 418h2v2h-2zM520 422h2v2h-2zM520 426h2v2h-2zM520 430h2v2h-2zM520 434h2v2h-2zM520 438h2v2h-2zM520 442h2v2h-2zM520 446h2v2h-2zM520 451h2v2h-2zM520 455h2v2h-2zM520 459h2v2h-2zM520 463h2v2h-2zM520 467h2v2h-2zM520 471h2v2h-2zM520 475h2v2h-2zM520 479h2v2h-2zM520 483h2v2h-2zM520 487h2v2h-2zM520 491h2v2h-2zM520 495h2v2h-2zM524 369h2v2h-2zM524 385h2v2h-2zM524 402h2v2h-2zM524 418h2v2h-2zM524 434h2v2h-2zM524 451h2v2h-2zM524 467h2v2h-2zM524 483h2v2h-2zM528 369h2v2h-2zM528 385h2v2h-2zM528 402h2v2h-2zM528 418h2v2h-2zM528 434h2v2h-2zM528 451h2v2h-2zM528 467h2v2h-2zM528 483h2v2h-2zM532 369h2v2h-2zM532 385h2v2h-2zM532 402h2v2h-2zM532 418h2v2h-2zM532 434h2v2h-2zM532 451h2v2h-2zM532 467h2v2h-2zM532 483h2v2h-2zM536 361h2v2h-2zM536 365h2v2h-2zM536 369h2v2h-2zM536 373h2v2h-2zM536 377h2v2h-2zM536 381h2v2h-2zM536 385h2v2h-2zM536 390h2v2h-2zM536 394h2v2h-2zM536 398h2v2h-2zM536 402h2v2h-2zM536 406h2v2h-2zM536 410h2v2h-2zM536 414h2v2h-2zM536 418h2v2h-2zM536 422h2v2h-2zM536 426h2v2h-2zM536 430h2v2h-2zM536 434h2v2h-2zM536 438h2v2h-2zM536 442h2v2h-2zM536 446h2v2h-2zM536 451h2v2h-2zM536 455h2v2h-2zM536 459h2v2h-2zM536 463h2v2h-2zM536 467h2v2h-2zM536 471h2v2h-2zM536 475h2v2h-2zM536 479h2v2h-2zM536 483h2v2h-2zM536 487h2v2h-2zM536 491h2v2h-2zM536 495h2v2h-2zM540 369h2v2h-2zM540 385h2v2h-2zM540 402h2v2h-2zM540 418h2v2h-2zM540 434h2v2h-2zM540 451h2v2h-2zM540 467h2v2h-2zM540 483h2v2h-2zM544 369h2v2h-2zM544 385h2v2h-2zM544 402h2v2h-2zM544 418h2v2h-2zM544 434h2v2h-2zM544 451h2v2h-2zM544 467h2v2h-2zM544 483h2v2h-2zM548 369h2v2h-2zM548 385h2v2h-2zM548 402h2v2h-2zM548 418h2v2h-2zM548 434h2v2h-2zM548 451h2v2h-2zM548 467h2v2h-2zM548 483h2v2h-2zM553 361h2v2h-2zM553 365h2v2h-2zM553 369h2v2h-2zM553 373h2v2h-2zM553 377h2v2h-2zM553 381h2v2h-2zM553 385h2v2h-2zM553 390h2v2h-2zM553 394h2v2h-2zM553 398h2v2h-2zM553 402h2v2h-2zM553 406h2v2h-2zM553 410h2v2h-2zM553 414h2v2h-2zM553 418h2v2h-2zM553 422h2v2h-2zM553 426h2v2h-2zM553 430h2v2h-2zM553 434h2v2h-2zM553 438h2v2h-2zM553 442h2v2h-2zM553 446h2v2h-2zM553 451h2v2h-2zM553 455h2v2h-2zM553 459h2v2h-2zM553 463h2v2h-2zM553 467h2v2h-2zM553 471h2v2h-2zM553 475h2v2h-2zM553 479h2v2h-2zM553 483h2v2h-2zM553 487h2v2h-2zM553 491h2v2h-2zM553 495h2v2h-2zM557 369h2v2h-2zM557 385h2v2h-2zM557 402h2v2h-2zM557 418h2v2h-2zM557 434h2v2h-2zM557 451h2v2h-2zM557 467h2v2h-2zM557 483h2v2h-2zM561 369h1.91v2h-1.91zM561 385h1.91v2h-1.91zM561 402h1.91v2h-1.91zM561 418h1.91v2h-1.91zM561 434h1.91v2h-1.91zM561 451h1.91v2h-1.91zM561 467h1.91v2h-1.91zM561 483h1.91v2h-1.91z" fill="#000"/>
<rect x="603.47" y="454.11" width="60.85" height="44.79" fill="url(#ga)"/>
<path d="M605 467h2v2h-2zM605 483h2v2h-2zM610 467h2v2h-2zM610 483h2v2h-2zM614 467h2v2h-2zM614 483h2v2h-2zM618 455h2v2h-2zM618 459h2v2h-2zM618 463h2v2h-2zM618 467h2v2h-2zM618 471h2v2h-2zM618 475h2v2h-2zM618 479h2v2h-2zM618 483h2v2h-2zM618 487h2v2h-2zM618 491h2v2h-2zM618 495h2v2h-2zM622 467h2v2h-2zM622 483h2v2h-2zM626 467h2v2h-2zM626 483h2v2h-2zM630 467h2v2h-2zM630 483h2v2h-2zM634 455h2v2h-2zM634 459h2v2h-2zM634 463h2v2h-2zM634 467h2v2h-2zM634 471h2v2h-2zM634 475h2v2h-2zM634 479h2v2h-2zM634 483h2v2h-2zM634 487h2v2h-2zM634 491h2v2h-2zM634 495h2v2h-2zM638 467h2v2h-2zM638 483h2v2h-2zM642 467h2v2h-2zM642 483h2v2h-2zM646 467h2v2h-2zM646 483h2v2h-2zM650 455h2v2h-2zM650 459h2v2h-2zM650 463h2v2h-2zM650 467h2v2h-2zM650 471h2v2h-2zM650 475h2v2h-2zM650 479h2v2h-2zM650 483h2v2h-2zM650 487h2v2h-2zM650 491h2v2h-2zM650 495h2v2h-2zM654 467h2v2h-2zM654 483h2v2h-2zM658 467h2v2h-2zM658 483h2v2h-2zM662 467h2v2h-2zM662 483h2v2h-2z" fill="#000"/>
<rect x="96.37" y="717.51" width="60.85" height="368.59" fill="url(#gb)"/>
<path d="M97 719h2v2h-2zM97 723h2v2h-2zM97 727h2v2h-2zM97 731h2v2h-2zM97 735h2v2h-2zM97 739h2v2h-2zM97 743h2v2h-2zM97 747h2v2h-2zM97 752h2v2h-2zM97 756h2v2h-2zM97 760h2v2h-2zM97 764h2v2h-2zM97 768h2v2h-2zM97 772h2v2h-2zM97 776h2v2h-2zM97 780h2v2h-2zM97 784h2v2h-2zM97 788h2v2h-2zM97 792h2v2h-2zM97 796h2v2h-2zM97 800h2v2h-2zM97 804h2v2h-2zM97 808h2v2h-2zM97 813h2v2h-2zM97 817h2v2h-2zM97 821h2v2h-2zM97 825h2v2h-2zM97 829h2v2h-2zM97 833h2v2h-2zM97 837h2v2h-2zM97 841h2v2h-2zM97 845h2v2h-2zM97 849h2v2h-2zM97 853h2v2h-2zM97 857h2v2h-2zM97 861h2v2h-2zM97 865h2v2h-2zM97 869h2v2h-2zM97 874h2v2h-2zM97 878h2v2h-2zM97 882h2v2h-2zM97 886h2v2h-2zM97 890h2v2h-2zM97 894h2v2h-2zM97 898h2v2h-2zM97 902h2v2h-2zM97 906h2v2h-2zM97 910h2v2h-2zM97 914h2v2h-2zM97 918h2v2h-2zM97 922h2v2h-2zM97 926h2v2h-2zM97 930h2v2h-2zM97 935h2v2h-2zM97 939h2v2h-2zM97 943h2v2h-2zM97 947h2v2h-2zM97 951h2v2h-2zM97 955h2v2h-2zM97 959h2v2h-2zM97 963h2v2h-2zM97 967h2v2h-2zM97 971h2v2h-2zM97 975h2v2h-2zM97 979h2v2h-2zM97 983h2v2h-2zM97 987h2v2h-2zM97 992h2v2h-2zM97 996h2v2h-2zM97 1000h2v2h-2zM97 1004h2v2h-2zM97 1008h2v2h-2zM97 1012h2v2h-2zM97 1016h2v2h-2zM97 1020h2v2h-2zM97 1024h2v2h-2zM97 1028h2v2h-2zM97 1032h2v2h-2zM97 1036h2v2h-2zM97 1040h2v2h-2zM97 1044h2v2h-2zM97 1048h2v2h-2zM97 1053h2v2h-2zM97 1057h2v2h-2zM97 1061h2v2h-2zM97 1065h2v2h-2zM97 1069h2v2h-2zM97 1073h2v2h-2zM97 1077h2v2h-2zM97 1081h2v2h-2zM97 1085h2v1.1h-2zM101 727h2v2h-2zM101 743h2v2h-2zM101 760h2v2h-2zM101 776h2v2h-2zM101 792h2v2h-2zM101 808h2v2h-2zM101 825h2v2h-2zM101 841h2v2h-2zM101 857h2v2h-2zM101 874h2v2h-2zM101 890h2v2h-2zM101 906h2v2h-2zM101 922h2v2h-2zM101 939h2v2h-2zM101 955h2v2h-2zM101 971h2v2h-2zM101 987h2v2h-2zM101 1004h2v2h-2zM101 1020h2v2h-2zM101 1036h2v2h-2zM101 1053h2v2h-2zM101 1069h2v2h-2zM101 1085h2v1.1h-2zM105 727h2v2h-2zM105 743h2v2h-2zM105 760h2v2h-2zM105 776h2v2h-2zM105 792h2v2h-2zM105 808h2v2h-2zM105 825h2v2h-2zM105 841h2v2h-2zM105 857h2v2h-2zM105 874h2v2h-2zM105 890h2v2h-2zM105 906h2v2h-2zM105 922h2v2h-2zM105 939h2v2h-2zM105 955h2v2h-2zM105 971h2v2h-2zM105 987h2v2h-2zM105 1004h2v2h-2zM105 1020h2v2h-2zM105 1036h2v2h-2zM105 1053h2v2h-2zM105 1069h2v2h-2zM105 1085h2v1.1h-2zM109 727h2v2h-2zM109 743h2v2h-2zM109 760h2v2h-2zM109 776h2v2h-2zM109 792h2v2h-2zM109 808h2v2h-2zM109 825h2v2h-2zM109 841h2v2h-2zM109 857h2v2h-2zM109 874h2v2h-2zM109 890h2v2h-2zM109 906h2v2h-2zM109 922h2v2h-2zM109 939h2v2h-2zM109 955h2v2h-2zM109 971h2v2h-2zM109 987h2v2h-2zM109 1004h2v2h-2zM109 1020h2v2h-2zM109 1036h2v2h-2zM109 1053h2v2h-2zM109 1069h2v2h-2zM109 1085h2v1.1h-2zM113 719h2v2h-2zM113 723h2v2h-2zM113 727h2v2h-2zM113 731h2v2h-2zM113 735h2v2h-2zM113 739h2v2h-2zM113 743h2v2h-2zM113 747h2v2h-2zM113 752h2v2h-2zM113 756h2v2h-2zM113 760h2v2h-2zM113 764h2v2h-2zM113 768h2v2h-2zM113 772h2v2h-2zM113 776h2v2h-2zM113 780h2v2h-2zM113 784h2v2h-2zM113 788h2v2h-2zM113 792h2v2h-2zM113 796h2v2h-2zM113 800h2v2h-2zM113 804h2v2h-2zM113 808h2v2h-2zM113 813h2v2h-2zM113 817h2v2h-2zM113 821h2v2h-2zM113 825h2v2h-2zM113 829h2v2h-2zM113 833h2v2h-2zM113 837h2v2h-2zM113 841h2v2h-2zM113 845h2v2h-2zM113 849h2v2h-2zM113 853h2v2h-2zM113 857h2v2h-2zM113 861h2v2h-2zM113 865h2v2h-2zM113 869h2v2h-2zM113 874h2v2h-2zM113 878h2v2h-2zM113 882h2v2h-2zM113 886h2v2h-2zM113 890h2v2h-2zM113 894h2v2h-2zM113 898h2v2h-2zM113 902h2v2h-2zM113 906h2v2h-2zM113 910h2v2h-2zM113 914h2v2h-2zM113 918h2v2h-2zM113 922h2v2h-2zM113 926h2v2h-2zM113 930h2v2h-2zM113 935h2v2h-2zM113 939h2v2h-2zM113 943h2v2h-2zM113 947h2v2h-2zM113 951h2v2h-2zM113 955h2v2h-2zM113 959h2v2h-2zM113 963h2v2h-2zM113 967h2v2h-2zM113 971h2v2h-2zM113 975h2v2h-2zM113 979h2v2h-2zM113 983h2v2h-2zM113 987h2v2h-2zM113 992h2v2h-2zM113 996h2v2h-2zM113 1000h2v2h-2zM113 1004h2v2h-2zM113 1008h2v2h-2zM113 1012h2v2h-2zM113 1016h2v2h-2zM113 1020h2v2h-2zM113 1024h2v2h-2zM113 1028h2v2h-2zM113 1032h2v2h-2zM113 1036h2v2h-2zM113 1040h2v2h-2zM113 1044h2v2h-2zM113 1048h2v2h-2zM113 1053h2v2h-2zM113 1057h2v2h-2zM113 1061h2v2h-2zM113 1065h2v2h-2zM113 1069h2v2h-2zM113 1073h2v2h-2zM113 1077h2v2h-2zM113 1081h2v2h-2zM113 1085h2v1.1h-2zM117 727h2v2h-2zM117 743h2v2h-2zM117 760h2v2h-2zM117 776h2v2h-2zM117 792h2v2h-2zM117 808h2v2h-2zM117 825h2v2h-2zM117 841h2v2h-2zM117 857h2v2h-2zM117 874h2v2h-2zM117 890h2v2h-2zM117 906h2v2h-2zM117 922h2v2h-2zM117 939h2v2h-2zM117 955h2v2h-2zM117 971h2v2h-2zM117 987h2v2h-2zM117 1004h2v2h-2zM117 1020h2v2h-2zM117 1036h2v2h-2zM117 1053h2v2h-2zM117 1069h2v2h-2zM117 1085h2v1.1h-2zM121 727h2v2h-2zM121 743h2v2h-2zM121 760h2v2h-2zM121 776h2v2h-2zM121 792h2v2h-2zM121 808h2v2h-2zM121 825h2v2h-2zM121 841h2v2h-2zM121 857h2v2h-2zM121 874h2v2h-2zM121 890h2v2h-2zM121 906h2v2h-2zM121 922h2v2h-2zM121 939h2v2h-2zM121 955h2v2h-2zM121 971h2v2h-2zM121 987h2v2h-2zM121 1004h2v2h-2zM121 1020h2v2h-2zM121 1036h2v2h-2zM121 1053h2v2h-2zM121 1069h2v2h-2zM121 1085h2v1.1h-2zM125 727h2v2h-2zM125 743h2v2h-2zM125 760h2v2h-2zM125 776h2v2h-2zM125 792h2v2h-2zM125 808h2v2h-2zM125 825h2v2h-2zM125 841h2v2h-2zM125 857h2v2h-2zM125 874h2v2h-2zM125 890h2v2h-2zM125 906h2v2h-2zM125 922h2v2h-2zM125 939h2v2h-2zM125 955h2v2h-2zM125 971h2v2h-2zM125 987h2v2h-2zM125 1004h2v2h-2zM125 1020h2v2h-2zM125 1036h2v2h-2zM125 1053h2v2h-2zM125 1069h2v2h-2zM125 1085h2v1.1h-2zM130 719h2v2h-2zM130 723h2v2h-2zM130 727h2v2h-2zM130 731h2v2h-2zM130 735h2v2h-2zM130 739h2v2h-2zM130 743h2v2h-2zM130 747h2v2h-2zM130 752h2v2h-2zM130 756h2v2h-2zM130 760h2v2h-2zM130 764h2v2h-2zM130 768h2v2h-2zM130 772h2v2h-2zM130 776h2v2h-2zM130 780h2v2h-2zM130 784h2v2h-2zM130 788h2v2h-2zM130 792h2v2h-2zM130 796h2v2h-2zM130 800h2v2h-2zM130 804h2v2h-2zM130 808h2v2h-2zM130 813h2v2h-2zM130 817h2v2h-2zM130 821h2v2h-2zM130 825h2v2h-2zM130 829h2v2h-2zM130 833h2v2h-2zM130 837h2v2h-2zM130 841h2v2h-2zM130 845h2v2h-2zM130 849h2v2h-2zM130 853h2v2h-2zM130 857h2v2h-2zM130 861h2v2h-2zM130 865h2v2h-2zM130 869h2v2h-2zM130 874h2v2h-2zM130 878h2v2h-2zM130 882h2v2h-2zM130 886h2v2h-2zM130 890h2v2h-2zM130 894h2v2h-2zM130 898h2v2h-2zM130 902h2v2h-2zM130 906h2v2h-2zM130 910h2v2h-2zM130 914h2v2h-2zM130 918h2v2h-2zM130 922h2v2h-2zM130 926h2v2h-2zM130 930h2v2h-2zM130 935h2v2h-2zM130 939h2v2h-2zM130 943h2v2h-2zM130 947h2v2h-2zM130 951h2v2h-2zM130 955h2v2h-2zM130 959h2v2h-2zM130 963h2v2h-2zM130 967h2v2h-2zM130 971h2v2h-2zM130 975h2v2h-2zM130 979h2v2h-2zM130 983h2v2h-2zM130 987h2v2h-2zM130 992h2v2h-2zM130 996h2v2h-2zM130 1000h2v2h-2zM130 1004h2v2h-2zM130 1008h2v2h-2zM130 1012h2v2h-2zM130 1016h2v2h-2zM130 1020h2v2h-2zM130 1024h2v2h-2zM130 1028h2v2h-2zM130 1032h2v2h-2zM130 1036h2v2h-2zM130 1040h2v2h-2zM130 1044h2v2h-2zM130 1048h2v2h-2zM130 1053h2v2h-2zM130 1057h2v2h-2zM130 1061h2v2h-2zM130 1065h2v2h-2zM130 1069h2v2h-2zM130 1073h2v2h-2zM130 1077h2v2h-2zM130 1081h2v2h-2zM130 1085h2v1.1h-2zM134 727h2v2h-2zM134 743h2v2h-2zM134 760h2v2h-2zM134 776h2v2h-2zM134 792h2v2h-2zM134 808h2v2h-2zM134 825h2v2h-2zM134 841h2v2h-2zM134 857h2v2h-2zM134 874h2v2h-2zM134 890h2v2h-2zM134 906h2v2h-2zM134 922h2v2h-2zM134 939h2v2h-2zM134 955h2v2h-2zM134 971h2v2h-2zM134 987h2v2h-2zM134 1004h2v2h-2zM134 1020h2v2h-2zM134 1036h2v2h-2zM134 1053h2v2h-2zM134 1069h2v2h-2zM134 1085h2v1.1h-2zM138 727h2v2h-2zM138 743h2v2h-2zM138 760h2v2h-2zM138 776h2v2h-2zM138 792h2v2h-2zM138 808h2v2h-2zM138 825h2v2h-2zM138 841h2v2h-2zM138 857h2v2h-2zM138 874h2v2h-2zM138 890h2v2h-2zM138 906h2v2h-2zM138 922h2v2h-2zM138 939h2v2h-2zM138 955h2v2h-2zM138 971h2v2h-2zM138 987h2v2h-2zM138 1004h2v2h-2zM138 1020h2v2h-2zM138 1036h2v2h-2zM138 1053h2v2h-2zM138 1069h2v2h-2zM138 1085h2v1.1h-2zM142 727h2v2h-2zM142 743h2v2h-2zM142 760h2v2h-2zM142 776h2v2h-2zM142 792h2v2h-2zM142 808h2v2h-2zM142 825h2v2h-2zM142 841h2v2h-2zM142 857h2v2h-2zM142 874h2v2h-2zM142 890h2v2h-2zM142 906h2v2h-2zM142 922h2v2h-2zM142 939h2v2h-2zM142 955h2v2h-2zM142 971h2v2h-2zM142 987h2v2h-2zM142 1004h2v2h-2zM142 1020h2v2h-2zM142 1036h2v2h-2zM142 1053h2v2h-2zM142 1069h2v2h-2zM142 1085h2v1.1h-2zM146 719h2v2h-2zM146 723h2v2h-2zM146 727h2v2h-2zM146 731h2v2h-2zM146 735h2v2h-2zM146 739h2v2h-2zM146 743h2v2h-2zM146 747h2v2h-2zM146 752h2v2h-2zM146 756h2v2h-2zM146 760h2v2h-2zM146 764h2v2h-2zM146 768h2v2h-2zM146 772h2v2h-2zM146 776h2v2h-2zM146 780h2v2h-2zM146 784h2v2h-2zM146 788h2v2h-2zM146 792h2v2h-2zM146 796h2v2h-2zM146 800h2v2h-2zM146 804h2v2h-2zM146 808h2v2h-2zM146 813h2v2h-2zM146 817h2v2h-2zM146 821h2v2h-2zM146 825h2v2h-2zM146 829h2v2h-2zM146 833h2v2h-2zM146 837h2v2h-2zM146 841h2v2h-2zM146 845h2v2h-2zM146 849h2v2h-2zM146 853h2v2h-2zM146 857h2v2h-2zM146 861h2v2h-2zM146 865h2v2h-2zM146 869h2v2h-2zM146 874h2v2h-2zM146 878h2v2h-2zM146 882h2v2h-2zM146 886h2v2h-2zM146 890h2v2h-2zM146 894h2v2h-2zM146 898h2v2h-2zM146 902h2v2h-2zM146 906h2v2h-2zM146 910h2v2h-2zM146 914h2v2h-2zM146 918h2v2h-2zM146 922h2v2h-2zM146 926h2v2h-2zM146 930h2v2h-2zM146 935h2v2h-2zM146 939h2v2h-2zM146 943h2v2h-2zM146 947h2v2h-2zM146 951h2v2h-2zM146 955h2v2h-2zM146 959h2v2h-2zM146 963h2v2h-2zM146 967h2v2h-2zM146 971h2v2h-2zM146 975h2v2h-2zM146 979h2v2h-2zM146 983h2v2h-2zM146 987h2v2h-2zM146 992h2v2h-2zM146 996h2v2h-2zM146 1000h2v2h-2zM146 1004h2v2h-2zM146 1008h2v2h-2zM146 1012h2v2h-2zM146 1016h2v2h-2zM146 1020h2v2h-2zM146 1024h2v2h-2zM146 1028h2v2h-2zM146 1032h2v2h-2zM146 1036h2v2h-2zM146 1040h2v2h-2zM146 1044h2v2h-2zM146 1048h2v2h-2zM146 1053h2v2h-2zM146 1057h2v2h-2zM146 1061h2v2h-2zM146 1065h2v2h-2zM146 1069h2v2h-2zM146 1073h2v2h-2zM146 1077h2v2h-2zM146 1081h2v2h-2zM146 1085h2v1.1h-2zM150 727h2v2h-2zM150 743h2v2h-2zM150 760h2v2h-2zM150 776h2v2h-2zM150 792h2v2h-2zM150 808h2v2h-2zM150 825h2v2h-2zM150 841h2v2h-2zM150 857h2v2h-2zM150 874h2v2h-2zM150 890h2v2h-2zM150 906h2v2h-2zM150 922h2v2h-2zM150 939h2v2h-2zM150 955h2v2h-2zM150 971h2v2h-2zM150 987h2v2h-2zM150 1004h2v2h-2zM150 1020h2v2h-2zM150 1036h2v2h-2zM150 1053h2v2h-2zM150 1069h2v2h-2zM150 1085h2v1.1h-2zM154 727h2v2h-2zM154 743h2v2h-2zM154 760h2v2h-2zM154 776h2v2h-2zM154 792h2v2h-2zM154 808h2v2h-2zM154 825h2v2h-2zM154 841h2v2h-2zM154 857h2v2h-2zM154 874h2v2h-2zM154 890h2v2h-2zM154 906h2v2h-2zM154 922h2v2h-2zM154 939h2v2h-2zM154 955h2v2h-2zM154 971h2v2h-2zM154 987h2v2h-2zM154 1004h2v2h-2zM154 1020h2v2h-2zM154 1036h2v2h-2zM154 1053h2v2h-2zM154 1069h2v2h-2zM154 1085h2v1.1h-2z" fill="#000"/>
<rect x="197.79" y="749.60" width="60.85" height="336.50" fill="url(#gb)"/>
<path d="M199 760h2v2h-2zM199 776h2v2h-2zM199 792h2v2h-2zM199 808h2v2h-2zM199 825h2v2h-2zM199 841h2v2h-2zM199 857h2v2h-2zM199 874h2v2h-2zM199 890h2v2h-2zM199 906h2v2h-2zM199 922h2v2h-2zM199 939h2v2h-2zM199 955h2v2h-2zM199 971h2v2h-2zM199 987h2v2h-2zM199 1004h2v2h-2zM199 1020h2v2h-2zM199 1036h2v2h-2zM199 1053h2v2h-2zM199 1069h2v2h-2zM199 1085h2v1.1h-2zM203 760h2v2h-2zM203 776h2v2h-2zM203 792h2v2h-2zM203 808h2v2h-2zM203 825h2v2h-2zM203 841h2v2h-2zM203 857h2v2h-2zM203 874h2v2h-2zM203 890h2v2h-2zM203 906h2v2h-2zM203 922h2v2h-2zM203 939h2v2h-2zM203 955h2v2h-2zM203 971h2v2h-2zM203 987h2v2h-2zM203 1004h2v2h-2zM203 1020h2v2h-2zM203 1036h2v2h-2zM203 1053h2v2h-2zM203 1069h2v2h-2zM203 1085h2v1.1h-2zM207 760h2v2h-2zM207 776h2v2h-2zM207 792h2v2h-2zM207 808h2v2h-2zM207 825h2v2h-2zM207 841h2v2h-2zM207 857h2v2h-2zM207 874h2v2h-2zM207 890h2v2h-2zM207 906h2v2h-2zM207 922h2v2h-2zM207 939h2v2h-2zM207 955h2v2h-2zM207 971h2v2h-2zM207 987h2v2h-2zM207 1004h2v2h-2zM207 1020h2v2h-2zM207 1036h2v2h-2zM207 1053h2v2h-2zM207 1069h2v2h-2zM207 1085h2v1.1h-2zM211 752h2v2h-2zM211 756h2v2h-2zM211 760h2v2h-2zM211 764h2v2h-2zM211 768h2v2h-2zM211 772h2v2h-2zM211 776h2v2h-2zM211 780h2v2h-2zM211 784h2v2h-2zM211 788h2v2h-2zM211 792h2v2h-2zM211 796h2v2h-2zM211 800h2v2h-2zM211 804h2v2h-2zM211 808h2v2h-2zM211 813h2v2h-2zM211 817h2v2h-2zM211 821h2v2h-2zM211 825h2v2h-2zM211 829h2v2h-2zM211 833h2v2h-2zM211 837h2v2h-2zM211 841h2v2h-2zM211 845h2v2h-2zM211 849h2v2h-2zM211 853h2v2h-2zM211 857h2v2h-2zM211 861h2v2h-2zM211 865h2v2h-2zM211 869h2v2h-2zM211 874h2v2h-2zM211 878h2v2h-2zM211 882h2v2h-2zM211 886h2v2h-2zM211 890h2v2h-2zM211 894h2v2h-2zM211 898h2v2h-2zM211 902h2v2h-2zM211 906h2v2h-2zM211 910h2v2h-2zM211 914h2v2h-2zM211 918h2v2h-2zM211 922h2v2h-2zM211 926h2v2h-2zM211 930h2v2h-2zM211 935h2v2h-2zM211 939h2v2h-2zM211 943h2v2h-2zM211 947h2v2h-2zM211 951h2v2h-2zM211 955h2v2h-2zM211 959h2v2h-2zM211 963h2v2h-2zM211 967h2v2h-2zM211 971h2v2h-2zM211 975h2v2h-2zM211 979h2v2h-2zM211 983h2v2h-2zM211 987h2v2h-2zM211 992h2v2h-2zM211 996h2v2h-2zM211 1000h2v2h-2zM211 1004h2v2h-2zM211 1008h2v2h-2zM211 1012h2v2h-2zM211 1016h2v2h-2zM211 1020h2v2h-2zM211 1024h2v2h-2zM211 1028h2v2h-2zM211 1032h2v2h-2zM211 1036h2v2h-2zM211 1040h2v2h-2zM211 1044h2v2h-2zM211 1048h2v2h-2zM211 1053h2v2h-2zM211 1057h2v2h-2zM211 1061h2v2h-2zM211 1065h2v2h-2zM211 1069h2v2h-2zM211 1073h2v2h-2zM211 1077h2v2h-2zM211 1081h2v2h-2zM211 1085h2v1.1h-2zM215 760h2v2h-2zM215 776h2v2h-2zM215 792h2v2h-2zM215 808h2v2h-2zM215 825h2v2h-2zM215 841h2v2h-2zM215 857h2v2h-2zM215 874h2v2h-2zM215 890h2v2h-2zM215 906h2v2h-2zM215 922h2v2h-2zM215 939h2v2h-2zM215 955h2v2h-2zM215 971h2v2h-2zM215 987h2v2h-2zM215 1004h2v2h-2zM215 1020h2v2h-2zM215 1036h2v2h-2zM215 1053h2v2h-2zM215 1069h2v2h-2zM215 1085h2v1.1h-2zM219 760h2v2h-2zM219 776h2v2h-2zM219 792h2v2h-2zM219 808h2v2h-2zM219 825h2v2h-2zM219 841h2v2h-2zM219 857h2v2h-2zM219 874h2v2h-2zM219 890h2v2h-2zM219 906h2v2h-2zM219 922h2v2h-2zM219 939h2v2h-2zM219 955h2v2h-2zM219 971h2v2h-2zM219 987h2v2h-2zM219 1004h2v2h-2zM219 1020h2v2h-2zM219 1036h2v2h-2zM219 1053h2v2h-2zM219 1069h2v2h-2zM219 1085h2v1.1h-2zM223 760h2v2h-2zM223 776h2v2h-2zM223 792h2v2h-2zM223 808h2v2h-2zM223 825h2v2h-2zM223 841h2v2h-2zM223 857h2v2h-2zM223 874h2v2h-2zM223 890h2v2h-2zM223 906h2v2h-2zM223 922h2v2h-2zM223 939h2v2h-2zM223 955h2v2h-2zM223 971h2v2h-2zM223 987h2v2h-2zM223 1004h2v2h-2zM223 1020h2v2h-2zM223 1036h2v2h-2zM223 1053h2v2h-2zM223 1069h2v2h-2zM223 1085h2v1.1h-2zM227 752h2v2h-2zM227 756h2v2h-2zM227 760h2v2h-2zM227 764h2v2h-2zM227 768h2v2h-2zM227 772h2v2h-2zM227 776h2v2h-2zM227 780h2v2h-2zM227 784h2v2h-2zM227 788h2v2h-2zM227 792h2v2h-2zM227 796h2v2h-2zM227 800h2v2h-2zM227 804h2v2h-2zM227 808h2v2h-2zM227 813h2v2h-2zM227 817h2v2h-2zM227 821h2v2h-2zM227 825h2v2h-2zM227 829h2v2h-2zM227 833h2v2h-2zM227 837h2v2h-2zM227 841h2v2h-2zM227 845h2v2h-2zM227 849h2v2h-2zM227 853h2v2h-2zM227 857h2v2h-2zM227 861h2v2h-2zM227 865h2v2h-2zM227 869h2v2h-2zM227 874h2v2h-2zM227 878h2v2h-2zM227 882h2v2h-2zM227 886h2v2h-2zM227 890h2v2h-2zM227 894h2v2h-2zM227 898h2v2h-2zM227 902h2v2h-2zM227 906h2v2h-2zM227 910h2v2h-2zM227 914h2v2h-2zM227 918h2v2h-2zM227 922h2v2h-2zM227 926h2v2h-2zM227 930h2v2h-2zM227 935h2v2h-2zM227 939h2v2h-2zM227 943h2v2h-2zM227 947h2v2h-2zM227 951h2v2h-2zM227 955h2v2h-2zM227 959h2v2h-2zM227 963h2v2h-2zM227 967h2v2h-2zM227 971h2v2h-2zM227 975h2v2h-2zM227 979h2v2h-2zM227 983h2v2h-2zM227 987h2v2h-2zM227 992h2v2h-2zM227 996h2v2h-2zM227 1000h2v2h-2zM227 1004h2v2h-2zM227 1008h2v2h-2zM227 1012h2v2h-2zM227 1016h2v2h-2zM227 1020h2v2h-2zM227 1024h2v2h-2zM227 1028h2v2h-2zM227 1032h2v2h-2zM227 1036h2v2h-2zM227 1040h2v2h-2zM227 1044h2v2h-2zM227 1048h2v2h-2zM227 1053h2v2h-2zM227 1057h2v2h-2zM227 1061h2v2h-2zM227 1065h2v2h-2zM227 1069h2v2h-2zM227 1073h2v2h-2zM227 1077h2v2h-2zM227 1081h2v2h-2zM227 1085h2v1.1h-2zM231 760h2v2h-2zM231 776h2v2h-2zM231 792h2v2h-2zM231 808h2v2h-2zM231 825h2v2h-2zM231 841h2v2h-2zM231 857h2v2h-2zM231 874h2v2h-2zM231 890h2v2h-2zM231 906h2v2h-2zM231 922h2v2h-2zM231 939h2v2h-2zM231 955h2v2h-2zM231 971h2v2h-2zM231 987h2v2h-2zM231 1004h2v2h-2zM231 1020h2v2h-2zM231 1036h2v2h-2zM231 1053h2v2h-2zM231 1069h2v2h-2zM231 1085h2v1.1h-2zM235 760h2v2h-2zM235 776h2v2h-2zM235 792h2v2h-2zM235 808h2v2h-2zM235 825h2v2h-2zM235 841h2v2h-2zM235 857h2v2h-2zM235 874h2v2h-2zM235 890h2v2h-2zM235 906h2v2h-2zM235 922h2v2h-2zM235 939h2v2h-2zM235 955h2v2h-2zM235 971h2v2h-2zM235 987h2v2h-2zM235 1004h2v2h-2zM235 1020h2v2h-2zM235 1036h2v2h-2zM235 1053h2v2h-2zM235 1069h2v2h-2zM235 1085h2v1.1h-2zM239 760h2v2h-2zM239 776h2v2h-2zM239 792h2v2h-2zM239 808h2v2h-2zM239 825h2v2h-2zM239 841h2v2h-2zM239 857h2v2h-2zM239 874h2v2h-2zM239 890h2v2h-2zM239 906h2v2h-2zM239 922h2v2h-2zM239 939h2v2h-2zM239 955h2v2h-2zM239 971h2v2h-2zM239 987h2v2h-2zM239 1004h2v2h-2zM239 1020h2v2h-2zM239 1036h2v2h-2zM239 1053h2v2h-2zM239 1069h2v2h-2zM239 1085h2v1.1h-2zM243 752h2v2h-2zM243 756h2v2h-2zM243 760h2v2h-2zM243 764h2v2h-2zM243 768h2v2h-2zM243 772h2v2h-2zM243 776h2v2h-2zM243 780h2v2h-2zM243 784h2v2h-2zM243 788h2v2h-2zM243 792h2v2h-2zM243 796h2v2h-2zM243 800h2v2h-2zM243 804h2v2h-2zM243 808h2v2h-2zM243 813h2v2h-2zM243 817h2v2h-2zM243 821h2v2h-2zM243 825h2v2h-2zM243 829h2v2h-2zM243 833h2v2h-2zM243 837h2v2h-2zM243 841h2v2h-2zM243 845h2v2h-2zM243 849h2v2h-2zM243 853h2v2h-2zM243 857h2v2h-2zM243 861h2v2h-2zM243 865h2v2h-2zM243 869h2v2h-2zM243 874h2v2h-2zM243 878h2v2h-2zM243 882h2v2h-2zM243 886h2v2h-2zM243 890h2v2h-2zM243 894h2v2h-2zM243 898h2v2h-2zM243 902h2v2h-2zM243 906h2v2h-2zM243 910h2v2h-2zM243 914h2v2h-2zM243 918h2v2h-2zM243 922h2v2h-2zM243 926h2v2h-2zM243 930h2v2h-2zM243 935h2v2h-2zM243 939h2v2h-2zM243 943h2v2h-2zM243 947h2v2h-2zM243 951h2v2h-2zM243 955h2v2h-2zM243 959h2v2h-2zM243 963h2v2h-2zM243 967h2v2h-2zM243 971h2v2h-2zM243 975h2v2h-2zM243 979h2v2h-2zM243 983h2v2h-2zM243 987h2v2h-2zM243 992h2v2h-2zM243 996h2v2h-2zM243 1000h2v2h-2zM243 1004h2v2h-2zM243 1008h2v2h-2zM243 1012h2v2h-2zM243 1016h2v2h-2zM243 1020h2v2h-2zM243 1024h2v2h-2zM243 1028h2v2h-2zM243 1032h2v2h-2zM243 1036h2v2h-2zM243 1040h2v2h-2zM243 1044h2v2h-2zM243 1048h2v2h-2zM243 1053h2v2h-2zM243 1057h2v2h-2zM243 1061h2v2h-2zM243 1065h2v2h-2zM243 1069h2v2h-2zM243 1073h2v2h-2zM243 1077h2v2h-2zM243 1081h2v2h-2zM243 1085h2v1.1h-2zM247 760h2v2h-2zM247 776h2v2h-2zM247 792h2v2h-2zM247 808h2v2h-2zM247 825h2v2h-2zM247 841h2v2h-2zM247 857h2v2h-2zM247 874h2v2h-2zM247 890h2v2h-2zM247 906h2v2h-2zM247 922h2v2h-2zM247 939h2v2h-2zM247 955h2v2h-2zM247 971h2v2h-2zM247 987h2v2h-2zM247 1004h2v2h-2zM247 1020h2v2h-2zM247 1036h2v2h-2zM247 1053h2v2h-2zM247 1069h2v2h-2zM247 1085h2v1.1h-2zM252 760h2v2h-2zM252 776h2v2h-2zM252 792h2v2h-2zM252 808h2v2h-2zM252 825h2v2h-2zM252 841h2v2h-2zM252 857h2v2h-2zM252 874h2v2h-2zM252 890h2v2h-2zM252 906h2v2h-2zM252 922h2v2h-2zM252 939h2v2h-2zM252 955h2v2h-2zM252 971h2v2h-2zM252 987h2v2h-2zM252 1004h2v2h-2zM252 1020h2v2h-2zM252 1036h2v2h-2zM252 1053h2v2h-2zM252 1069h2v2h-2zM252 1085h2v1.1h-2zM256 760h2v2h-2zM256 776h2v2h-2zM256 792h2v2h-2zM256 808h2v2h-2zM256 825h2v2h-2zM256 841h2v2h-2zM256 857h2v2h-2zM256 874h2v2h-2zM256 890h2v2h-2zM256 906h2v2h-2zM256 922h2v2h-2zM256 939h2v2h-2zM256 955h2v2h-2zM256 971h2v2h-2zM256 987h2v2h-2zM256 1004h2v2h-2zM256 1020h2v2h-2zM256 1036h2v2h-2zM256 1053h2v2h-2zM256 1069h2v2h-2zM256 1085h2v1.1h-2z" fill="#000"/>
<rect x="299.21" y="826.63" width="60.85" height="259.47" fill="url(#gb)"/>
<path d="M300 826.63h2v0.37h-2zM300 841h2v2h-2zM300 857h2v2h-2zM300 874h2v2h-2zM300 890h2v2h-2zM300 906h2v2h-2zM300 922h2v2h-2zM300 939h2v2h-2zM300 955h2v2h-2zM300 971h2v2h-2zM300 987h2v2h-2zM300 1004h2v2h-2zM300 1020h2v2h-2zM300 1036h2v2h-2zM300 1053h2v2h-2zM300 1069h2v2h-2zM300 1085h2v1.1h-2zM304 826.63h2v0.37h-2zM304 841h2v2h-2zM304 857h2v2h-2zM304 874h2v2h-2zM304 890h2v2h-2zM304 906h2v2h-2zM304 922h2v2h-2zM304 939h2v2h-2zM304 955h2v2h-2zM304 971h2v2h-2zM304 987h2v2h-2zM304 1004h2v2h-2zM304 1020h2v2h-2zM304 1036h2v2h-2zM304 1053h2v2h-2zM304 1069h2v2h-2zM304 1085h2v1.1h-2zM309 826.63h2v0.37h-2zM309 829h2v2h-2zM309 833h2v2h-2zM309 837h2v2h-2zM309 841h2v2h-2zM309 845h2v2h-2zM309 849h2v2h-2zM309 853h2v2h-2zM309 857h2v2h-2zM309 861h2v2h-2zM309 865h2v2h-2zM309 869h2v2h-2zM309 874h2v2h-2zM309 878h2v2h-2zM309 882h2v2h-2zM309 886h2v2h-2zM309 890h2v2h-2zM309 894h2v2h-2zM309 898h2v2h-2zM309 902h2v2h-2zM309 906h2v2h-2zM309 910h2v2h-2zM309 914h2v2h-2zM309 918h2v2h-2zM309 922h2v2h-2zM309 926h2v2h-2zM309 930h2v2h-2zM309 935h2v2h-2zM309 939h2v2h-2zM309 943h2v2h-2zM309 947h2v2h-2zM309 951h2v2h-2zM309 955h2v2h-2zM309 959h2v2h-2zM309 963h2v2h-2zM309 967h2v2h-2zM309 971h2v2h-2zM309 975h2v2h-2zM309 979h2v2h-2zM309 983h2v2h-2zM309 987h2v2h-2zM309 992h2v2h-2zM309 996h2v2h-2zM309 1000h2v2h-2zM309 1004h2v2h-2zM309 1008h2v2h-2zM309 1012h2v2h-2zM309 1016h2v2h-2zM309 1020h2v2h-2zM309 1024h2v2h-2zM309 1028h2v2h-2zM309 1032h2v2h-2zM309 1036h2v2h-2zM309 1040h2v2h-2zM309 1044h2v2h-2zM309 1048h2v2h-2zM309 1053h2v2h-2zM309 1057h2v2h-2zM309 1061h2v2h-2zM309 1065h2v2h-2zM309 1069h2v2h-2zM309 1073h2v2h-2zM309 1077h2v2h-2zM309 1081h2v2h-2zM309 1085h2v1.1h-2zM313 826.63h2v0.37h-2zM313 841h2v2h-2zM313 857h2v2h-2zM313 874h2v2h-2zM313 890h2v2h-2zM313 906h2v2h-2zM313 922h2v2h-2zM313 939h2v2h-2zM313 955h2v2h-2zM313 971h2v2h-2zM313 987h2v2h-2zM313 1004h2v2h-2zM313 1020h2v2h-2zM313 1036h2v2h-2zM313 1053h2v2h-2zM313 1069h2v2h-2zM313 1085h2v1.1h-2zM317 826.63h2v0.37h-2zM317 841h2v2h-2zM317 857h2v2h-2zM317 874h2v2h-2zM317 890h2v2h-2zM317 906h2v2h-2zM317 922h2v2h-2zM317 939h2v2h-2zM317 955h2v2h-2zM317 971h2v2h-2zM317 987h2v2h-2zM317 1004h2v2h-2zM317 1020h2v2h-2zM317 1036h2v2h-2zM317 1053h2v2h-2zM317 1069h2v2h-2zM317 1085h2v1.1h-2zM321 826.63h2v0.37h-2zM321 841h2v2h-2zM321 857h2v2h-2zM321 874h2v2h-2zM321 890h2v2h-2zM321 906h2v2h-2zM321 922h2v2h-2zM321 939h2v2h-2zM321 955h2v2h-2zM321 971h2v2h-2zM321 987h2v2h-2zM321 1004h2v2h-2zM321 1020h2v2h-2zM321 1036h2v2h-2zM321 1053h2v2h-2zM321 1069h2v2h-2zM321 1085h2v1.1h-2zM325 826.63h2v0.37h-2zM325 829h2v2h-2zM325 833h2v2h-2zM325 837h2v2h-2zM325 841h2v2h-2zM325 845h2v2h-2zM325 849h2v2h-2zM325 853h2v2h-2zM325 857h2v2h-2zM325 861h2v2h-2zM325 865h2v2h-2zM325 869h2v2h-2zM325 874h2v2h-2zM325 878h2v2h-2zM325 882h2v2h-2zM325 886h2v2h-2zM325 890h2v2h-2zM325 894h2v2h-2zM325 898h2v2h-2zM325 902h2v2h-2zM325 906h2v2h-2zM325 910h2v2h-2zM325 914h2v2h-2zM325 918h2v2h-2zM325 922h2v2h-2zM325 926h2v2h-2zM325 930h2v2h-2zM325 935h2v2h-2zM325 939h2v2h-2zM325 943h2v2h-2zM325 947h2v2h-2zM325 951h2v2h-2zM325 955h2v2h-2zM325 959h2v2h-2zM325 963h2v2h-2zM325 967h2v2h-2zM325 971h2v2h-2zM325 975h2v2h-2zM325 979h2v2h-2zM325 983h2v2h-2zM325 987h2v2h-2zM325 992h2v2h-2zM325 996h2v2h-2zM325 1000h2v2h-2zM325 1004h2v2h-2zM325 1008h2v2h-2zM325 1012h2v2h-2zM325 1016h2v2h-2zM325 1020h2v2h-2zM325 1024h2v2h-2zM325 1028h2v2h-2zM325 1032h2v2h-2zM325 1036h2v2h-2zM325 1040h2v2h-2zM325 1044h2v2h-2zM325 1048h2v2h-2zM325 1053h2v2h-2zM325 1057h2v2h-2zM325 1061h2v2h-2zM325 1065h2v2h-2zM325 1069h2v2h-2zM325 1073h2v2h-2zM325 1077h2v2h-2zM325 1081h2v2h-2zM325 1085h2v1.1h-2zM329 826.63h2v0.37h-2zM329 841h2v2h-2zM329 857h2v2h-2zM329 874h2v2h-2zM329 890h2v2h-2zM329 906h2v2h-2zM329 922h2v2h-2zM329 939h2v2h-2zM329 955h2v2h-2zM329 971h2v2h-2zM329 987h2v2h-2zM329 1004h2v2h-2zM329 1020h2v2h-2zM329 1036h2v2h-2zM329 1053h2v2h-2zM329 1069h2v2h-2zM329 1085h2v1.1h-2zM333 826.63h2v0.37h-2zM333 841h2v2h-2zM333 857h2v2h-2zM333 874h2v2h-2zM333 890h2v2h-2zM333 906h2v2h-2zM333 922h2v2h-2zM333 939h2v2h-2zM333 955h2v2h-2zM333 971h2v2h-2zM333 987h2v2h-2zM333 1004h2v2h-2zM333 1020h2v2h-2zM333 1036h2v2h-2zM333 1053h2v2h-2zM333 1069h2v2h-2zM333 1085h2v1.1h-2zM337 826.63h2v0.37h-2zM337 841h2v2h-2zM337 857h2v2h-2zM337 874h2v2h-2zM337 890h2v2h-2zM337 906h2v2h-2zM337 922h2v2h-2zM337 939h2v2h-2zM337 955h2v2h-2zM337 971h2v2h-2zM337 987h2v2h-2zM337 1004h2v2h-2zM337 1020h2v2h-2zM337 1036h2v2h-2zM337 1053h2v2h-2zM337 1069h2v2h-2zM337 1085h2v1.1h-2zM341 826.63h2v0.37h-2zM341 829h2v2h-2zM341 833h2v2h-2zM341 837h2v2h-2zM341 841h2v2h-2zM341 845h2v2h-2zM341 849h2v2h-2zM341 853h2v2h-2zM341 857h2v2h-2zM341 861h2v2h-2zM341 865h2v2h-2zM341 869h2v2h-2zM341 874h2v2h-2zM341 878h2v2h-2zM341 882h2v2h-2zM341 886h2v2h-2zM341 890h2v2h-2zM341 894h2v2h-2zM341 898h2v2h-2zM341 902h2v2h-2zM341 906h2v2h-2zM341 910h2v2h-2zM341 914h2v2h-2zM341 918h2v2h-2zM341 922h2v2h-2zM341 926h2v2h-2zM341 930h2v2h-2zM341 935h2v2h-2zM341 939h2v2h-2zM341 943h2v2h-2zM341 947h2v2h-2zM341 951h2v2h-2zM341 955h2v2h-2zM341 959h2v2h-2zM341 963h2v2h-2zM341 967h2v2h-2zM341 971h2v2h-2zM341 975h2v2h-2zM341 979h2v2h-2zM341 983h2v2h-2zM341 987h2v2h-2zM341 992h2v2h-2zM341 996h2v2h-2zM341 1000h2v2h-2zM341 1004h2v2h-2zM341 1008h2v2h-2zM341 1012h2v2h-2zM341 1016h2v2h-2zM341 1020h2v2h-2zM341 1024h2v2h-2zM341 1028h2v2h-2zM341 1032h2v2h-2zM341 1036h2v2h-2zM341 1040h2v2h-2zM341 1044h2v2h-2zM341 1048h2v2h-2zM341 1053h2v2h-2zM341 1057h2v2h-2zM341 1061h2v2h-2zM341 1065h2v2h-2zM341 1069h2v2h-2zM341 1073h2v2h-2zM341 1077h2v2h-2zM341 1081h2v2h-2zM341 1085h2v1.1h-2zM345 826.63h2v0.37h-2zM345 841h2v2h-2zM345 857h2v2h-2zM345 874h2v2h-2zM345 890h2v2h-2zM345 906h2v2h-2zM345 922h2v2h-2zM345 939h2v2h-2zM345 955h2v2h-2zM345 971h2v2h-2zM345 987h2v2h-2zM345 1004h2v2h-2zM345 1020h2v2h-2zM345 1036h2v2h-2zM345 1053h2v2h-2zM345 1069h2v2h-2zM345 1085h2v1.1h-2zM349 826.63h2v0.37h-2zM349 841h2v2h-2zM349 857h2v2h-2zM349 874h2v2h-2zM349 890h2v2h-2zM349 906h2v2h-2zM349 922h2v2h-2zM349 939h2v2h-2zM349 955h2v2h-2zM349 971h2v2h-2zM349 987h2v2h-2zM349 1004h2v2h-2zM349 1020h2v2h-2zM349 1036h2v2h-2zM349 1053h2v2h-2zM349 1069h2v2h-2zM349 1085h2v1.1h-2zM353 826.63h2v0.37h-2zM353 841h2v2h-2zM353 857h2v2h-2zM353 874h2v2h-2zM353 890h2v2h-2zM353 906h2v2h-2zM353 922h2v2h-2zM353 939h2v2h-2zM353 955h2v2h-2zM353 971h2v2h-2zM353 987h2v2h-2zM353 1004h2v2h-2zM353 1020h2v2h-2zM353 1036h2v2h-2zM353 1053h2v2h-2zM353 1069h2v2h-2zM353 1085h2v1.1h-2zM357 826.63h2v0.37h-2zM357 829h2v2h-2zM357 833h2v2h-2zM357 837h2v2h-2zM357 841h2v2h-2zM357 845h2v2h-2zM357 849h2v2h-2zM357 853h2v2h-2zM357 857h2v2h-2zM357 861h2v2h-2zM357 865h2v2h-2zM357 869h2v2h-2zM357 874h2v2h-2zM357 878h2v2h-2zM357 882h2v2h-2zM357 886h2v2h-2zM357 890h2v2h-2zM357 894h2v2h-2zM357 898h2v2h-2zM357 902h2v2h-2zM357 906h2v2h-2zM357 910h2v2h-2zM357 914h2v2h-2zM357 918h2v2h-2zM357 922h2v2h-2zM357 926h2v2h-2zM357 930h2v2h-2zM357 935h2v2h-2zM357 939h2v2h-2zM357 943h2v2h-2zM357 947h2v2h-2zM357 951h2v2h-2zM357 955h2v2h-2zM357 959h2v2h-2zM357 963h2v2h-2zM357 967h2v2h-2zM357 971h2v2h-2zM357 975h2v2h-2zM357 979h2v2h-2zM357 983h2v2h-2zM357 987h2v2h-2zM357 992h2v2h-2zM357 996h2v2h-2zM357 1000h2v2h-2zM357 1004h2v2h-2zM357 1008h2v2h-2zM357 1012h2v2h-2zM357 1016h2v2h-2zM357 1020h2v2h-2zM357 1024h2v2h-2zM357 1028h2v2h-2zM357 1032h2v2h-2zM357 1036h2v2h-2zM357 1040h2v2h-2zM357 1044h2v2h-2zM357 1048h2v2h-2zM357 1053h2v2h-2zM357 1057h2v2h-2zM357 1061h2v2h-2zM357 1065h2v2h-2zM357 1069h2v2h-2zM357 1073h2v2h-2zM357 1077h2v2h-2zM357 1081h2v2h-2zM357 1085h2v1.1h-2z" fill="#000"/>
<rect x="400.63" y="861.07" width="60.85" height="225.03" fill="url(#gb)"/>
<path d="M402 874h2v2h-2zM402 890h2v2h-2zM402 906h2v2h-2zM402 922h2v2h-2zM402 939h2v2h-2zM402 955h2v2h-2zM402 971h2v2h-2zM402 987h2v2h-2zM402 1004h2v2h-2zM402 1020h2v2h-2zM402 1036h2v2h-2zM402 1053h2v2h-2zM402 1069h2v2h-2zM402 1085h2v1.1h-2zM406 861.07h2v1.93h-2zM406 865h2v2h-2zM406 869h2v2h-2zM406 874h2v2h-2zM406 878h2v2h-2zM406 882h2v2h-2zM406 886h2v2h-2zM406 890h2v2h-2zM406 894h2v2h-2zM406 898h2v2h-2zM406 902h2v2h-2zM406 906h2v2h-2zM406 910h2v2h-2zM406 914h2v2h-2zM406 918h2v2h-2zM406 922h2v2h-2zM406 926h2v2h-2zM406 930h2v2h-2zM406 935h2v2h-2zM406 939h2v2h-2zM406 943h2v2h-2zM406 947h2v2h-2zM406 951h2v2h-2zM406 955h2v2h-2zM406 959h2v2h-2zM406 963h2v2h-2zM406 967h2v2h-2zM406 971h2v2h-2zM406 975h2v2h-2zM406 979h2v2h-2zM406 983h2v2h-2zM406 987h2v2h-2zM406 992h2v2h-2zM406 996h2v2h-2zM406 1000h2v2h-2zM406 1004h2v2h-2zM406 1008h2v2h-2zM406 1012h2v2h-2zM406 1016h2v2h-2zM406 1020h2v2h-2zM406 1024h2v2h-2zM406 1028h2v2h-2zM406 1032h2v2h-2zM406 1036h2v2h-2zM406 1040h2v2h-2zM406 1044h2v2h-2zM406 1048h2v2h-2zM406 1053h2v2h-2zM406 1057h2v2h-2zM406 1061h2v2h-2zM406 1065h2v2h-2zM406 1069h2v2h-2zM406 1073h2v2h-2zM406 1077h2v2h-2zM406 1081h2v2h-2zM406 1085h2v1.1h-2zM410 874h2v2h-2zM410 890h2v2h-2zM410 906h2v2h-2zM410 922h2v2h-2zM410 939h2v2h-2zM410 955h2v2h-2zM410 971h2v2h-2zM410 987h2v2h-2zM410 1004h2v2h-2zM410 1020h2v2h-2zM410 1036h2v2h-2zM410 1053h2v2h-2zM410 1069h2v2h-2zM410 1085h2v1.1h-2zM414 874h2v2h-2zM414 890h2v2h-2zM414 906h2v2h-2zM414 922h2v2h-2zM414 939h2v2h-2zM414 955h2v2h-2zM414 971h2v2h-2zM414 987h2v2h-2zM414 1004h2v2h-2zM414 1020h2v2h-2zM414 1036h2v2h-2zM414 1053h2v2h-2zM414 1069h2v2h-2zM414 1085h2v1.1h-2zM418 874h2v2h-2zM418 890h2v2h-2zM418 906h2v2h-2zM418 922h2v2h-2zM418 939h2v2h-2zM418 955h2v2h-2zM418 971h2v2h-2zM418 987h2v2h-2zM418 1004h2v2h-2zM418 1020h2v2h-2zM418 1036h2v2h-2zM418 1053h2v2h-2zM418 1069h2v2h-2zM418 1085h2v1.1h-2zM422 861.07h2v1.93h-2zM422 865h2v2h-2zM422 869h2v2h-2zM422 874h2v2h-2zM422 878h2v2h-2zM422 882h2v2h-2zM422 886h2v2h-2zM422 890h2v2h-2zM422 894h2v2h-2zM422 898h2v2h-2zM422 902h2v2h-2zM422 906h2v2h-2zM422 910h2v2h-2zM422 914h2v2h-2zM422 918h2v2h-2zM422 922h2v2h-2zM422 926h2v2h-2zM422 930h2v2h-2zM422 935h2v2h-2zM422 939h2v2h-2zM422 943h2v2h-2zM422 947h2v2h-2zM422 951h2v2h-2zM422 955h2v2h-2zM422 959h2v2h-2zM422 963h2v2h-2zM422 967h2v2h-2zM422 971h2v2h-2zM422 975h2v2h-2zM422 979h2v2h-2zM422 983h2v2h-2zM422 987h2v2h-2zM422 992h2v2h-2zM422 996h2v2h-2zM422 1000h2v2h-2zM422 1004h2v2h-2zM422 1008h2v2h-2zM422 1012h2v2h-2zM422 1016h2v2h-2zM422 1020h2v2h-2zM422 1024h2v2h-2zM422 1028h2v2h-2zM422 1032h2v2h-2zM422 1036h2v2h-2zM422 1040h2v2h-2zM422 1044h2v2h-2zM422 1048h2v2h-2zM422 1053h2v2h-2zM422 1057h2v2h-2zM422 1061h2v2h-2zM422 1065h2v2h-2zM422 1069h2v2h-2zM422 1073h2v2h-2zM422 1077h2v2h-2zM422 1081h2v2h-2zM422 1085h2v1.1h-2zM426 874h2v2h-2zM426 890h2v2h-2zM426 906h2v2h-2zM426 922h2v2h-2zM426 939h2v2h-2zM426 955h2v2h-2zM426 971h2v2h-2zM426 987h2v2h-2zM426 1004h2v2h-2zM426 1020h2v2h-2zM426 1036h2v2h-2zM426 1053h2v2h-2zM426 1069h2v2h-2zM426 1085h2v1.1h-2zM431 874h2v2h-2zM431 890h2v2h-2zM431 906h2v2h-2zM431 922h2v2h-2zM431 939h2v2h-2zM431 955h2v2h-2zM431 971h2v2h-2zM431 987h2v2h-2zM431 1004h2v2h-2zM431 1020h2v2h-2zM431 1036h2v2h-2zM431 1053h2v2h-2zM431 1069h2v2h-2zM431 1085h2v1.1h-2zM435 874h2v2h-2zM435 890h2v2h-2zM435 906h2v2h-2zM435 922h2v2h-2zM435 939h2v2h-2zM435 955h2v2h-2zM435 971h2v2h-2zM435 987h2v2h-2zM435 1004h2v2h-2zM435 1020h2v2h-2zM435 1036h2v2h-2zM435 1053h2v2h-2zM435 1069h2v2h-2zM435 1085h2v1.1h-2zM439 861.07h2v1.93h-2zM439 865h2v2h-2zM439 869h2v2h-2zM439 874h2v2h-2zM439 878h2v2h-2zM439 882h2v2h-2zM439 886h2v2h-2zM439 890h2v2h-2zM439 894h2v2h-2zM439 898h2v2h-2zM439 902h2v2h-2zM439 906h2v2h-2zM439 910h2v2h-2zM439 914h2v2h-2zM439 918h2v2h-2zM439 922h2v2h-2zM439 926h2v2h-2zM439 930h2v2h-2zM439 935h2v2h-2zM439 939h2v2h-2zM439 943h2v2h-2zM439 947h2v2h-2zM439 951h2v2h-2zM439 955h2v2h-2zM439 959h2v2h-2zM439 963h2v2h-2zM439 967h2v2h-2zM439 971h2v2h-2zM439 975h2v2h-2zM439 979h2v2h-2zM439 983h2v2h-2zM439 987h2v2h-2zM439 992h2v2h-2zM439 996h2v2h-2zM439 1000h2v2h-2zM439 1004h2v2h-2zM439 1008h2v2h-2zM439 1012h2v2h-2zM439 1016h2v2h-2zM439 1020h2v2h-2zM439 1024h2v2h-2zM439 1028h2v2h-2zM439 1032h2v2h-2zM439 1036h2v2h-2zM439 1040h2v2h-2zM439 1044h2v2h-2zM439 1048h2v2h-2zM439 1053h2v2h-2zM439 1057h2v2h-2zM439 1061h2v2h-2zM439 1065h2v2h-2zM439 1069h2v2h-2zM439 1073h2v2h-2zM439 1077h2v2h-2zM439 1081h2v2h-2zM439 1085h2v1.1h-2zM443 874h2v2h-2zM443 890h2v2h-2zM443 906h2v2h-2zM443 922h2v2h-2zM443 939h2v2h-2zM443 955h2v2h-2zM443 971h2v2h-2zM443 987h2v2h-2zM443 1004h2v2h-2zM443 1020h2v2h-2zM443 1036h2v2h-2zM443 1053h2v2h-2zM443 1069h2v2h-2zM443 1085h2v1.1h-2zM447 874h2v2h-2zM447 890h2v2h-2zM447 906h2v2h-2zM447 922h2v2h-2zM447 939h2v2h-2zM447 955h2v2h-2zM447 971h2v2h-2zM447 987h2v2h-2zM447 1004h2v2h-2zM447 1020h2v2h-2zM447 1036h2v2h-2zM447 1053h2v2h-2zM447 1069h2v2h-2zM447 1085h2v1.1h-2zM451 874h2v2h-2zM451 890h2v2h-2zM451 906h2v2h-2zM451 922h2v2h-2zM451 939h2v2h-2zM451 955h2v2h-2zM451 971h2v2h-2zM451 987h2v2h-2zM451 1004h2v2h-2zM451 1020h2v2h-2zM451 1036h2v2h-2zM451 1053h2v2h-2zM451 1069h2v2h-2zM451 1085h2v1.1h-2zM455 861.07h2v1.93h-2zM455 865h2v2h-2zM455 869h2v2h-2zM455 874h2v2h-2zM455 878h2v2h-2zM455 882h2v2h-2zM455 886h2v2h-2zM455 890h2v2h-2zM455 894h2v2h-2zM455 898h2v2h-2zM455 902h2v2h-2zM455 906h2v2h-2zM455 910h2v2h-2zM455 914h2v2h-2zM455 918h2v2h-2zM455 922h2v2h-2zM455 926h2v2h-2zM455 930h2v2h-2zM455 935h2v2h-2zM455 939h2v2h-2zM455 943h2v2h-2zM455 947h2v2h-2zM455 951h2v2h-2zM455 955h2v2h-2zM455 959h2v2h-2zM455 963h2v2h-2zM455 967h2v2h-2zM455 971h2v2h-2zM455 975h2v2h-2zM455 979h2v2h-2zM455 983h2v2h-2zM455 987h2v2h-2zM455 992h2v2h-2zM455 996h2v2h-2zM455 1000h2v2h-2zM455 1004h2v2h-2zM455 1008h2v2h-2zM455 1012h2v2h-2zM455 1016h2v2h-2zM455 1020h2v2h-2zM455 1024h2v2h-2zM455 1028h2v2h-2zM455 1032h2v2h-2zM455 1036h2v2h-2zM455 1040h2v2h-2zM455 1044h2v2h-2zM455 1048h2v2h-2zM455 1053h2v2h-2zM455 1057h2v2h-2zM455 1061h2v2h-2zM455 1065h2v2h-2zM455 1069h2v2h-2zM455 1073h2v2h-2zM455 1077h2v2h-2zM455 1081h2v2h-2zM455 1085h2v1.1h-2zM459 874h2v2h-2zM459 890h2v2h-2zM459 906h2v2h-2zM459 922h2v2h-2zM459 939h2v2h-2zM459 955h2v2h-2zM459 971h2v2h-2zM459 987h2v2h-2zM459 1004h2v2h-2zM459 1020h2v2h-2zM459 1036h2v2h-2zM459 1053h2v2h-2zM459 1069h2v2h-2zM459 1085h2v1.1h-2z" fill="#000"/>
<rect x="502.05" y="928.11" width="60.85" height="157.99" fill="url(#gb)"/>
<path d="M504 930h2v2h-2zM504 935h2v2h-2zM504 939h2v2h-2zM504 943h2v2h-2zM504 947h2v2h-2zM504 951h2v2h-2zM504 955h2v2h-2zM504 959h2v2h-2zM504 963h2v2h-2zM504 967h2v2h-2zM504 971h2v2h-2zM504 975h2v2h-2zM504 979h2v2h-2zM504 983h2v2h-2zM504 987h2v2h-2zM504 992h2v2h-2zM504 996h2v2h-2zM504 1000h2v2h-2zM504 1004h2v2h-2zM504 1008h2v2h-2zM504 1012h2v2h-2zM504 1016h2v2h-2zM504 1020h2v2h-2zM504 1024h2v2h-2zM504 1028h2v2h-2zM504 1032h2v2h-2zM504 1036h2v2h-2zM504 1040h2v2h-2zM504 1044h2v2h-2zM504 1048h2v2h-2zM504 1053h2v2h-2zM504 1057h2v2h-2zM504 1061h2v2h-2zM504 1065h2v2h-2zM504 1069h2v2h-2zM504 1073h2v2h-2zM504 1077h2v2h-2zM504 1081h2v2h-2zM504 1085h2v1.1h-2zM508 939h2v2h-2zM508 955h2v2h-2zM508 971h2v2h-2zM508 987h2v2h-2zM508 1004h2v2h-2zM508 1020h2v2h-2zM508 1036h2v2h-2zM508 1053h2v2h-2zM508 1069h2v2h-2zM508 1085h2v1.1h-2zM512 939h2v2h-2zM512 955h2v2h-2zM512 971h2v2h-2zM512 987h2v2h-2zM512 1004h2v2h-2zM512 1020h2v2h-2zM512 1036h2v2h-2zM512 1053h2v2h-2zM512 1069h2v2h-2zM512 1085h2v1.1h-2zM516 939h2v2h-2zM516 955h2v2h-2zM516 971h2v2h-2zM516 987h2v2h-2zM516 1004h2v2h-2zM516 1020h2v2h-2zM516 1036h2v2h-2zM516 1053h2v2h-2zM516 1069h2v2h-2zM516 1085h2v1.1h-2zM520 930h2v2h-2zM520 935h2v2h-2zM520 939h2v2h-2zM520 943h2v2h-2zM520 947h2v2h-2zM520 951h2v2h-2zM520 955h2v2h-2zM520 959h2v2h-2zM520 963h2v2h-2zM520 967h2v2h-2zM520 971h2v2h-2zM520 975h2v2h-2zM520 979h2v2h-2zM520 983h2v2h-2zM520 987h2v2h-2zM520 992h2v2h-2zM520 996h2v2h-2zM520 1000h2v2h-2zM520 1004h2v2h-2zM520 1008h2v2h-2zM520 1012h2v2h-2zM520 1016h2v2h-2zM520 1020h2v2h-2zM520 1024h2v2h-2zM520 1028h2v2h-2zM520 1032h2v2h-2zM520 1036h2v2h-2zM520 1040h2v2h-2zM520 1044h2v2h-2zM520 1048h2v2h-2zM520 1053h2v2h-2zM520 1057h2v2h-2zM520 1061h2v2h-2zM520 1065h2v2h-2zM520 1069h2v2h-2zM520 1073h2v2h-2zM520 1077h2v2h-2zM520 1081h2v2h-2zM520 1085h2v1.1h-2zM524 939h2v2h-2zM524 955h2v2h-2zM524 971h2v2h-2zM524 987h2v2h-2zM524 1004h2v2h-2zM524 1020h2v2h-2zM524 1036h2v2h-2zM524 1053h2v2h-2zM524 1069h2v2h-2zM524 1085h2v1.1h-2zM528 939h2v2h-2zM528 955h2v2h-2zM528 971h2v2h-2zM528 987h2v2h-2zM528 1004h2v2h-2zM528 1020h2v2h-2zM528 1036h2v2h-2zM528 1053h2v2h-2zM528 1069h2v2h-2zM528 1085h2v1.1h-2zM532 939h2v2h-2zM532 955h2v2h-2zM532 971h2v2h-2zM532 987h2v2h-2zM532 1004h2v2h-2zM532 1020h2v2h-2zM532 1036h2v2h-2zM532 1053h2v2h-2zM532 1069h2v2h-2zM532 1085h2v1.1h-2zM536 930h2v2h-2zM536 935h2v2h-2zM536 939h2v2h-2zM536 943h2v2h-2zM536 947h2v2h-2zM536 951h2v2h-2zM536 955h2v2h-2zM536 959h2v2h-2zM536 963h2v2h-2zM536 967h2v2h-2zM536 971h2v2h-2zM536 975h2v2h-2zM536 979h2v2h-2zM536 983h2v2h-2zM536 987h2v2h-2zM536 992h2v2h-2zM536 996h2v2h-2zM536 1000h2v2h-2zM536 1004h2v2h-2zM536 1008h2v2h-2zM536 1012h2v2h-2zM536 1016h2v2h-2zM536 1020h2v2h-2zM536 1024h2v2h-2zM536 1028h2v2h-2zM536 1032h2v2h-2zM536 1036h2v2h-2zM536 1040h2v2h-2zM536 1044h2v2h-2zM536 1048h2v2h-2zM536 1053h2v2h-2zM536 1057h2v2h-2zM536 1061h2v2h-2zM536 1065h2v2h-2zM536 1069h2v2h-2zM536 1073h2v2h-2zM536 1077h2v2h-2zM536 1081h2v2h-2zM536 1085h2v1.1h-2zM540 939h2v2h-2zM540 955h2v2h-2zM540 971h2v2h-2zM540 987h2v2h-2zM540 1004h2v2h-2zM540 1020h2v2h-2zM540 1036h2v2h-2zM540 1053h2v2h-2zM540 1069h2v2h-2zM540 1085h2v1.1h-2zM544 939h2v2h-2zM544 955h2v2h-2zM544 971h2v2h-2zM544 987h2v2h-2zM544 1004h2v2h-2zM544 1020h2v2h-2zM544 1036h2v2h-2zM544 1053h2v2h-2zM544 1069h2v2h-2zM544 1085h2v1.1h-2zM548 939h2v2h-2zM548 955h2v2h-2zM548 971h2v2h-2zM548 987h2v2h-2zM548 1004h2v2h-2zM548 1020h2v2h-2zM548 1036h2v2h-2zM548 1053h2v2h-2zM548 1069h2v2h-2zM548 1085h2v1.1h-2zM553 930h2v2h-2zM553 935h2v2h-2zM553 939h2v2h-2zM553 943h2v2h-2zM553 947h2v2h-2zM553 951h2v2h-2zM553 955h2v2h-2zM553 959h2v2h-2zM553 963h2v2h-2zM553 967h2v2h-2zM553 971h2v2h-2zM553 975h2v2h-2zM553 979h2v2h-2zM553 983h2v2h-2zM553 987h2v2h-2zM553 992h2v2h-2zM553 996h2v2h-2zM553 1000h2v2h-2zM553 1004h2v2h-2zM553 1008h2v2h-2zM553 1012h2v2h-2zM553 1016h2v2h-2zM553 1020h2v2h-2zM553 1024h2v2h-2zM553 1028h2v2h-2zM553 1032h2v2h-2zM553 1036h2v2h-2zM553 1040h2v2h-2zM553 1044h2v2h-2zM553 1048h2v2h-2zM553 1053h2v2h-2zM553 1057h2v2h-2zM553 1061h2v2h-2zM553 1065h2v2h-2zM553 1069h2v2h-2zM553 1073h2v2h-2zM553 1077h2v2h-2zM553 1081h2v2h-2zM553 1085h2v1.1h-2zM557 939h2v2h-2zM557 955h2v2h-2zM557 971h2v2h-2zM557 987h2v2h-2zM557 1004h2v2h-2zM557 1020h2v2h-2zM557 1036h2v2h-2zM557 1053h2v2h-2zM557 1069h2v2h-2zM557 1085h2v1.1h-2zM561 939h1.91v2h-1.91zM561 955h1.91v2h-1.91zM561 971h1.91v2h-1.91zM561 987h1.91v2h-1.91zM561 1004h1.91v2h-1.91zM561 1020h1.91v2h-1.91zM561 1036h1.91v2h-1.91zM561 1053h1.91v2h-1.91zM561 1069h1.91v2h-1.91zM561 1085h1.91v1.1h-1.91z" fill="#000"/>
<rect x="603.47" y="1040.66" width="60.85" height="45.44" fill="url(#gb)"/>
<path d="M605 1053h2v2h-2zM605 1069h2v2h-2zM605 1085h2v1.1h-2zM610 1053h2v2h-2zM610 1069h2v2h-2zM610 1085h2v1.1h-2zM614 1053h2v2h-2zM614 1069h2v2h-2zM614 1085h2v1.1h-2zM618 1040.66h2v1.34h-2zM618 1044h2v2h-2zM618 1048h2v2h-2zM618 1053h2v2h-2zM618 1057h2v2h-2zM618 1061h2v2h-2zM618 1065h2v2h-2zM618 1069h2v2h-2zM618 1073h2v2h-2zM618 1077h2v2h-2zM618 1081h2v2h-2zM618 1085h2v1.1h-2zM622 1053h2v2h-2zM622 1069h2v2h-2zM622 1085h2v1.1h-2zM626 1053h2v2h-2zM626 1069h2v2h-2zM626 1085h2v1.1h-2zM630 1053h2v2h-2zM630 1069h2v2h-2zM630 1085h2v1.1h-2zM634 1040.66h2v1.34h-2zM634 1044h2v2h-2zM634 1048h2v2h-2zM634 1053h2v2h-2zM634 1057h2v2h-2zM634 1061h2v2h-2zM634 1065h2v2h-2zM634 1069h2v2h-2zM634 1073h2v2h-2zM634 1077h2v2h-2zM634 1081h2v2h-2zM634 1085h2v1.1h-2zM638 1053h2v2h-2zM638 1069h2v2h-2zM638 1085h2v1.1h-2zM642 1053h2v2h-2zM642 1069h2v2h-2zM642 1085h2v1.1h-2zM646 1053h2v2h-2zM646 1069h2v2h-2zM646 1085h2v1.1h-2zM650 1040.66h2v1.34h-2zM650 1044h2v2h-2zM650 1048h2v2h-2zM650 1053h2v2h-2zM650 1057h2v2h-2zM650 1061h2v2h-2zM650 1065h2v2h-2zM650 1069h2v2h-2zM650 1073h2v2h-2zM650 1077h2v2h-2zM650 1081h2v2h-2zM650 1085h2v1.1h-2zM654 1053h2v2h-2zM654 1069h2v2h-2zM654 1085h2v1.1h-2zM658 1053h2v2h-2zM658 1069h2v2h-2zM658 1085h2v1.1h-2zM662 1053h2v2h-2zM662 1069h2v2h-2zM662 1085h2v1.1h-2z" fill="#000"/>
<g stroke="#e0aef8" fill="none" stroke-linecap="round"><line x1="121.80" y1="108.00" x2="131.80" y2="108.00" stroke-width="1.9"/><line x1="121.80" y1="113.50" x2="131.80" y2="113.50" stroke-width="1.9"/><line x1="126.80" y1="108.00" x2="126.80" y2="113.50" stroke-width="2.0"/></g>
<g stroke="#e0aef8" fill="none" stroke-linecap="round"><line x1="223.22" y1="279.70" x2="233.22" y2="279.70" stroke-width="1.9"/><line x1="223.22" y1="284.20" x2="233.22" y2="284.20" stroke-width="1.9"/><line x1="228.22" y1="279.70" x2="228.22" y2="284.20" stroke-width="2.0"/></g>
<g stroke="#e0aef8" fill="none" stroke-linecap="round"><line x1="324.64" y1="285.30" x2="334.64" y2="285.30" stroke-width="1.9"/><line x1="324.64" y1="291.00" x2="334.64" y2="291.00" stroke-width="1.9"/><line x1="329.64" y1="285.30" x2="329.64" y2="291.00" stroke-width="2.0"/></g>
<g stroke="#e0aef8" fill="none" stroke-linecap="round"><line x1="426.06" y1="302.10" x2="436.06" y2="302.10" stroke-width="1.9"/><line x1="426.06" y1="308.50" x2="436.06" y2="308.50" stroke-width="1.9"/><line x1="431.06" y1="302.10" x2="431.06" y2="308.50" stroke-width="2.0"/></g>
<g stroke="#e0aef8" fill="none" stroke-linecap="round"><line x1="527.48" y1="356.10" x2="537.48" y2="356.10" stroke-width="1.9"/><line x1="527.48" y1="362.20" x2="537.48" y2="362.20" stroke-width="1.9"/><line x1="532.48" y1="356.10" x2="532.48" y2="362.20" stroke-width="2.0"/></g>
<g stroke="#e0aef8" fill="none" stroke-linecap="round"><line x1="628.90" y1="450.10" x2="638.90" y2="450.10" stroke-width="1.9"/><line x1="628.90" y1="457.75" x2="638.90" y2="457.75" stroke-width="1.9"/><line x1="633.90" y1="450.10" x2="633.90" y2="457.75" stroke-width="2.0"/></g>
<g stroke="#00f500" fill="none" stroke-linecap="round"><line x1="121.80" y1="714.30" x2="131.80" y2="714.30" stroke-width="2.3"/><line x1="121.80" y1="720.70" x2="131.80" y2="720.70" stroke-width="2.3"/><line x1="126.80" y1="714.30" x2="126.80" y2="720.70" stroke-width="2.8"/></g>
<g stroke="#00f500" fill="none" stroke-linecap="round"><line x1="223.22" y1="746.20" x2="233.22" y2="746.20" stroke-width="2.3"/><line x1="223.22" y1="753.10" x2="233.22" y2="753.10" stroke-width="2.3"/><line x1="228.22" y1="746.20" x2="228.22" y2="753.10" stroke-width="2.8"/></g>
<g stroke="#00f500" fill="none" stroke-linecap="round"><line x1="324.64" y1="823.40" x2="334.64" y2="823.40" stroke-width="2.3"/><line x1="324.64" y1="829.90" x2="334.64" y2="829.90" stroke-width="2.3"/><line x1="329.64" y1="823.40" x2="329.64" y2="829.90" stroke-width="2.8"/></g>
<g stroke="#00f500" fill="none" stroke-linecap="round"><line x1="426.06" y1="857.20" x2="436.06" y2="857.20" stroke-width="2.3"/><line x1="426.06" y1="864.60" x2="436.06" y2="864.60" stroke-width="2.3"/><line x1="431.06" y1="857.20" x2="431.06" y2="864.60" stroke-width="2.8"/></g>
<g stroke="#00f500" fill="none" stroke-linecap="round"><line x1="527.48" y1="924.40" x2="537.48" y2="924.40" stroke-width="2.3"/><line x1="527.48" y1="931.90" x2="537.48" y2="931.90" stroke-width="2.3"/><line x1="532.48" y1="924.40" x2="532.48" y2="931.90" stroke-width="2.8"/></g>
<g stroke="#00f500" fill="none" stroke-linecap="round"><line x1="628.90" y1="1036.60" x2="638.90" y2="1036.60" stroke-width="2.3"/><line x1="628.90" y1="1044.70" x2="638.90" y2="1044.70" stroke-width="2.3"/><line x1="633.90" y1="1036.60" x2="633.90" y2="1044.70" stroke-width="2.8"/></g>
<g stroke="#000" stroke-width="1.8" fill="none">
<rect x="76.0" y="7.9" width="608.1" height="491.0"/>
<line x1="66.3" y1="498.90" x2="76.0" y2="498.90"/>
<line x1="71.2" y1="468.21" x2="76.0" y2="468.21"/>
<line x1="66.3" y1="437.52" x2="76.0" y2="437.52"/>
<line x1="71.2" y1="406.84" x2="76.0" y2="406.84"/>
<line x1="66.3" y1="376.15" x2="76.0" y2="376.15"/>
<line x1="71.2" y1="345.46" x2="76.0" y2="345.46"/>
<line x1="66.3" y1="314.77" x2="76.0" y2="314.77"/>
<line x1="71.2" y1="284.09" x2="76.0" y2="284.09"/>
<line x1="66.3" y1="253.40" x2="76.0" y2="253.40"/>
<line x1="71.2" y1="222.71" x2="76.0" y2="222.71"/>
<line x1="66.3" y1="192.03" x2="76.0" y2="192.03"/>
<line x1="71.2" y1="161.34" x2="76.0" y2="161.34"/>
<line x1="66.3" y1="130.65" x2="76.0" y2="130.65"/>
<line x1="71.2" y1="99.96" x2="76.0" y2="99.96"/>
<line x1="66.3" y1="69.28" x2="76.0" y2="69.28"/>
<line x1="71.2" y1="38.59" x2="76.0" y2="38.59"/>
<line x1="66.3" y1="7.90" x2="76.0" y2="7.90"/>
<line x1="126.80" y1="498.9" x2="126.80" y2="508.4"/>
<line x1="253.57" y1="498.9" x2="253.57" y2="508.4"/>
<line x1="380.35" y1="498.9" x2="380.35" y2="508.4"/>
<line x1="507.12" y1="498.9" x2="507.12" y2="508.4"/>
<line x1="633.90" y1="498.9" x2="633.90" y2="508.4"/>
<line x1="190.19" y1="498.9" x2="190.19" y2="503.5"/>
<line x1="316.96" y1="498.9" x2="316.96" y2="503.5"/>
<line x1="443.74" y1="498.9" x2="443.74" y2="503.5"/>
<line x1="570.51" y1="498.9" x2="570.51" y2="503.5"/>
</g>
<g font-family="'Liberation Serif','Times New Roman',serif" font-size="20.5" fill="#000">
<text x="59.8" y="504.60" text-anchor="end">125</text>
<text x="59.8" y="443.22" text-anchor="end">130</text>
<text x="59.8" y="381.85" text-anchor="end">135</text>
<text x="59.8" y="320.47" text-anchor="end">140</text>
<text x="59.8" y="259.10" text-anchor="end">145</text>
<text x="59.8" y="197.72" text-anchor="end">150</text>
<text x="59.8" y="136.35" text-anchor="end">155</text>
<text x="59.8" y="74.98" text-anchor="end">160</text>
<text x="59.8" y="13.60" text-anchor="end">165</text>
<text x="126.80" y="530.70" text-anchor="middle">0</text>
<text x="253.57" y="530.70" text-anchor="middle">50</text>
<text x="380.35" y="530.70" text-anchor="middle">100</text>
<text x="507.12" y="530.70" text-anchor="middle">150</text>
<text x="633.90" y="530.70" text-anchor="middle">200</text>
</g>
<g stroke="#000" stroke-width="1.8" fill="none">
<rect x="76.0" y="595.2" width="608.1" height="490.89999999999986"/>
<line x1="66.3" y1="1086.10" x2="76.0" y2="1086.10"/>
<line x1="71.2" y1="1037.01" x2="76.0" y2="1037.01"/>
<line x1="66.3" y1="987.92" x2="76.0" y2="987.92"/>
<line x1="71.2" y1="938.83" x2="76.0" y2="938.83"/>
<line x1="66.3" y1="889.74" x2="76.0" y2="889.74"/>
<line x1="71.2" y1="840.65" x2="76.0" y2="840.65"/>
<line x1="66.3" y1="791.56" x2="76.0" y2="791.56"/>
<line x1="71.2" y1="742.47" x2="76.0" y2="742.47"/>
<line x1="66.3" y1="693.38" x2="76.0" y2="693.38"/>
<line x1="71.2" y1="644.29" x2="76.0" y2="644.29"/>
<line x1="66.3" y1="595.20" x2="76.0" y2="595.20"/>
<line x1="126.80" y1="1086.1" x2="126.80" y2="1095.6"/>
<line x1="253.57" y1="1086.1" x2="253.57" y2="1095.6"/>
<line x1="380.35" y1="1086.1" x2="380.35" y2="1095.6"/>
<line x1="507.12" y1="1086.1" x2="507.12" y2="1095.6"/>
<line x1="633.90" y1="1086.1" x2="633.90" y2="1095.6"/>
<line x1="190.19" y1="1086.1" x2="190.19" y2="1090.6999999999998"/>
<line x1="316.96" y1="1086.1" x2="316.96" y2="1090.6999999999998"/>
<line x1="443.74" y1="1086.1" x2="443.74" y2="1090.6999999999998"/>
<line x1="570.51" y1="1086.1" x2="570.51" y2="1090.6999999999998"/>
</g>
<g font-family="'Liberation Serif','Times New Roman',serif" font-size="20.5" fill="#000">
<text x="59.8" y="1091.80" text-anchor="end">130</text>
<text x="59.8" y="993.62" text-anchor="end">135</text>
<text x="59.8" y="895.44" text-anchor="end">140</text>
<text x="59.8" y="797.26" text-anchor="end">145</text>
<text x="59.8" y="699.08" text-anchor="end">150</text>
<text x="59.8" y="600.90" text-anchor="end">155</text>
<text x="126.80" y="1117.90" text-anchor="middle">0</text>
<text x="253.57" y="1117.90" text-anchor="middle">50</text>
<text x="380.35" y="1117.90" text-anchor="middle">100</text>
<text x="507.12" y="1117.90" text-anchor="middle">150</text>
<text x="633.90" y="1117.90" text-anchor="middle">200</text>
</g>
<g font-family="'Liberation Serif','Times New Roman',serif" font-size="25.3" fill="#000">
<text x="380" y="571.5" text-anchor="middle">Time (d)</text>
<text x="380" y="1159" text-anchor="middle">Time (d)</text>
<text transform="translate(18,252.9) rotate(-90)" text-anchor="middle">Water contact angle (°)</text>
<text transform="translate(18,839.5) rotate(-90)" text-anchor="middle" font-size="25.7">Oil contact angle (°)</text>
</g>
<rect x="409.90" y="40.50" width="253.00" height="35.10" fill="#c0c0c0"/>
<rect x="403.30" y="33.90" width="253.00" height="35.10" fill="#fff"/>
<rect x="447" y="38" width="51" height="24.5" fill="url(#ga)"/>
<path d="M447 44h2v2h-2zM447 60h2v2h-2zM451 44h2v2h-2zM451 60h2v2h-2zM455 40h2v2h-2zM455 44h2v2h-2zM455 48h2v2h-2zM455 52h2v2h-2zM455 56h2v2h-2zM455 60h2v2h-2zM459 44h2v2h-2zM459 60h2v2h-2zM463 44h2v2h-2zM463 60h2v2h-2zM467 44h2v2h-2zM467 60h2v2h-2zM471 40h2v2h-2zM471 44h2v2h-2zM471 48h2v2h-2zM471 52h2v2h-2zM471 56h2v2h-2zM471 60h2v2h-2zM475 44h2v2h-2zM475 60h2v2h-2zM479 44h2v2h-2zM479 60h2v2h-2zM483 44h2v2h-2zM483 60h2v2h-2zM487 40h2v2h-2zM487 44h2v2h-2zM487 48h2v2h-2zM487 52h2v2h-2zM487 56h2v2h-2zM487 60h2v2h-2zM492 44h2v2h-2zM492 60h2v2h-2zM496 44h2v2h-2zM496 60h2v2h-2z" fill="#000"/>
<text x="404.8" y="59.8" font-family="'Liberation Serif','Times New Roman',serif" font-size="25.3">(a)</text>
<text x="510.0" y="59.8" font-family="'Liberation Serif','Times New Roman',serif" font-size="25.3">SHOU DPEA</text>
<rect x="409.90" y="627.90" width="254.70" height="35.30" fill="#c0c0c0"/>
<rect x="403.30" y="621.30" width="254.70" height="35.30" fill="#fff"/>
<rect x="448.3" y="625.2" width="50.4" height="25.4" fill="url(#gb)"/>
<path d="M448.3 630h0.7v2h-0.7zM448.3 646h0.7v2h-0.7zM451 630h2v2h-2zM451 646h2v2h-2zM455 625.2h2v1.8h-2zM455 630h2v2h-2zM455 634h2v2h-2zM455 638h2v2h-2zM455 642h2v2h-2zM455 646h2v2h-2zM455 650h2v0.6h-2zM459 630h2v2h-2zM459 646h2v2h-2zM463 630h2v2h-2zM463 646h2v2h-2zM467 630h2v2h-2zM467 646h2v2h-2zM471 625.2h2v1.8h-2zM471 630h2v2h-2zM471 634h2v2h-2zM471 638h2v2h-2zM471 642h2v2h-2zM471 646h2v2h-2zM471 650h2v0.6h-2zM475 630h2v2h-2zM475 646h2v2h-2zM479 630h2v2h-2zM479 646h2v2h-2zM483 630h2v2h-2zM483 646h2v2h-2zM487 625.2h2v1.8h-2zM487 630h2v2h-2zM487 634h2v2h-2zM487 638h2v2h-2zM487 642h2v2h-2zM487 646h2v2h-2zM487 650h2v0.6h-2zM492 630h2v2h-2zM492 646h2v2h-2zM496 630h2v2h-2zM496 646h2v2h-2z" fill="#000"/>
<text x="405.2" y="647.1" font-family="'Liberation Serif','Times New Roman',serif" font-size="25.3">(b)</text>
<text x="512.3" y="647.1" font-family="'Liberation Serif','Times New Roman',serif" font-size="25.3">SHOU DPEA</text>
<g font-family="'Liberation Serif','Times New Roman',serif" font-size="25.3" fill="#000">
<text x="92.9" y="32.6">156.614°</text>
<text x="187.0" y="192.9">142.672°</text>
<text x="292.7" y="197.2">142.162°</text>
<text x="387.6" y="214.5">140.771°</text>
<text x="491.0" y="288.8">136.391°</text>
<text x="588.7" y="368.9">128.649°</text>
<text x="87.0" y="626.9">148.771°</text>
<text x="189.8" y="663.5">147.137°</text>
<text x="293.2" y="739.3">143.214°</text>
<text x="396.0" y="781.2">141.460°</text>
<text x="490.9" y="844.5">138.046°</text>
<text x="587.9" y="946.7">132.314°</text>
</g>
<g><path d="M96.00,84.00 L163.00,82.00 L163.00,104.00 L96.00,104.00Z" fill="url(#subg)"/><ellipse cx="130.60" cy="63.20" rx="26.20" ry="23.30" fill="url(#rimg)"/><ellipse cx="130.25" cy="63.65" rx="25.05" ry="22.05" fill="url(#dropg)"/><path d="M117.52,82.87 A25.40,22.95 0 0 0 143.68,82.87" stroke="#f0f0f0" stroke-width="1.3" fill="none"/><ellipse cx="129.70" cy="66.10" rx="6.00" ry="3.50" fill="#9a9a9a" filter="url(#blur1)"/><polyline points="99.30,67.90 129.70,95.80 161.60,67.70" stroke="#a8e2e2" stroke-width="1.1" fill="none"/></g>
<g><line x1="194.80" y1="203.60" x2="194.80" y2="275.40" stroke="#262626" stroke-width="1"/><line x1="259.80" y1="203.60" x2="259.80" y2="275.40" stroke="#262626" stroke-width="1"/><path d="M194.30,248.80 L260.30,248.80 L260.30,275.40 L194.30,275.40Z" fill="url(#subg)"/><ellipse cx="228.55" cy="232.55" rx="25.95" ry="24.35" fill="url(#rimg)"/><ellipse cx="228.20" cy="233.00" rx="24.80" ry="23.10" fill="url(#dropg)"/><path d="M215.60,253.12 A25.15,24.00 0 0 0 241.50,253.12" stroke="#f0f0f0" stroke-width="1.3" fill="none"/><ellipse cx="228.90" cy="233.50" rx="5.00" ry="2.75" fill="#8a8a8a" filter="url(#blur1)"/><polyline points="194.30,237.20 228.90,266.10 260.00,237.20" stroke="#a8e2e2" stroke-width="1.1" fill="none"/></g>
<g><line x1="296.90" y1="208.20" x2="296.90" y2="282.40" stroke="#262626" stroke-width="1"/><path d="M296.40,256.10 L363.10,256.10 L363.10,282.40 L296.40,282.40Z" fill="url(#subg)"/><ellipse cx="330.25" cy="239.55" rx="27.05" ry="23.15" fill="url(#rimg)"/><ellipse cx="329.90" cy="240.00" rx="25.90" ry="21.90" fill="url(#dropg)"/><path d="M316.73,259.09 A26.25,22.80 0 0 0 343.77,259.09" stroke="#f0f0f0" stroke-width="1.3" fill="none"/><ellipse cx="331.70" cy="244.50" rx="4.50" ry="3.00" fill="#707070" filter="url(#blur1)"/><polyline points="296.40,245.90 331.70,273.60 360.60,245.90" stroke="#a8e2e2" stroke-width="1.1" fill="none"/></g>
<g><line x1="398.90" y1="223.50" x2="398.90" y2="297.50" stroke="#262626" stroke-width="1"/><line x1="464.10" y1="223.50" x2="464.10" y2="297.50" stroke="#262626" stroke-width="1"/><path d="M398.40,270.50 L464.60,270.50 L464.60,297.50 L398.40,297.50Z" fill="url(#subg)"/><ellipse cx="431.70" cy="255.15" rx="24.80" ry="23.35" fill="url(#rimg)"/><ellipse cx="431.35" cy="255.60" rx="23.65" ry="22.10" fill="url(#dropg)"/><path d="M419.34,274.86 A24.00,23.00 0 0 0 444.06,274.86" stroke="#f0f0f0" stroke-width="1.3" fill="none"/><ellipse cx="430.20" cy="257.80" rx="5.00" ry="4.00" fill="#3a3a3a" filter="url(#blur1)"/><line x1="440.13" y1="241.61" x2="444.84" y2="245.58" stroke="#7d8c98" stroke-width="1.0" stroke-linecap="round" filter="url(#blur03)"/><polyline points="398.40,260.00 428.10,285.40 464.60,263.90" stroke="#a8e2e2" stroke-width="1.1" fill="none"/></g>
<g><line x1="496.60" y1="296.60" x2="496.60" y2="352.80" stroke="#262626" stroke-width="1"/><line x1="562.70" y1="296.60" x2="562.70" y2="352.80" stroke="#8a8a8a" stroke-width="1"/><path d="M496.10,335.10 L563.20,335.10 L563.20,352.80 L496.10,352.80Z" fill="url(#subg)"/><ellipse cx="529.25" cy="321.85" rx="25.95" ry="20.45" fill="url(#rimg)"/><ellipse cx="528.90" cy="322.30" rx="24.80" ry="19.20" fill="url(#dropg)"/><path d="M516.30,339.08 A25.15,20.10 0 0 0 542.20,339.08" stroke="#f0f0f0" stroke-width="1.3" fill="none"/><ellipse cx="528.20" cy="323.10" rx="4.80" ry="2.40" fill="#6a6a6a" filter="url(#blur1)"/><line x1="538.07" y1="309.99" x2="543.00" y2="313.47" stroke="#7d8c98" stroke-width="1.0" stroke-linecap="round" filter="url(#blur03)"/><polyline points="496.10,323.90 532.20,352.80 557.90,327.10" stroke="#a8e2e2" stroke-width="1.1" fill="none"/></g>
<g><line x1="668.00" y1="372.30" x2="668.00" y2="445.60" stroke="#8a8a8a" stroke-width="1"/><path d="M601.40,420.50 L668.50,420.50 L668.50,445.60 L601.40,445.60Z" fill="url(#subg)"/><ellipse cx="632.30" cy="404.45" rx="25.70" ry="26.25" fill="url(#rimg)"/><ellipse cx="631.95" cy="404.90" rx="24.55" ry="25.00" fill="url(#dropg)"/><path d="M619.48,426.65 A24.90,25.90 0 0 0 645.12,426.65" stroke="#f0f0f0" stroke-width="1.3" fill="none"/><ellipse cx="631.70" cy="407.40" rx="5.00" ry="3.50" fill="#383838" filter="url(#blur1)"/><line x1="641.04" y1="389.22" x2="645.92" y2="393.69" stroke="#7d8c98" stroke-width="1.0" stroke-linecap="round" filter="url(#blur03)"/><polyline points="606.90,416.10 636.10,441.70 661.60,408.80" stroke="#a8e2e2" stroke-width="1.1" fill="none"/></g>
<g><line x1="162.70" y1="635.00" x2="162.70" y2="708.50" stroke="#262626" stroke-width="1"/><path d="M96.60,682.60 L163.20,682.60 L163.20,708.50 L96.60,708.50Z" fill="url(#subg)"/><ellipse cx="129.25" cy="663.55" rx="26.45" ry="25.15" fill="url(#rimg)"/><ellipse cx="128.90" cy="664.00" rx="25.30" ry="23.90" fill="url(#dropg)"/><path d="M116.04,684.81 A25.65,24.80 0 0 0 142.46,684.81" stroke="#f0f0f0" stroke-width="1.3" fill="none"/><ellipse cx="129.40" cy="660.00" rx="3.72" ry="4.20" fill="#282828" filter="url(#blur2)"/><path d="M123.20,665.25 A6.20,4.55 0 0 0 135.60,665.25 A6.20,2.45 0 0 0 123.20,665.25 Z" fill="#fff" filter="url(#blur05)"/><line x1="138.24" y1="648.96" x2="143.27" y2="653.24" stroke="#7d8c98" stroke-width="1.0" stroke-linecap="round" filter="url(#blur03)"/><polyline points="98.40,667.20 129.90,701.00 155.70,672.10" stroke="#a8e2e2" stroke-width="1.1" fill="none"/></g>
<g><path d="M194.90,718.30 L261.90,718.30 L261.90,741.60 L194.90,741.60Z" fill="url(#subg)"/><ellipse cx="228.45" cy="701.30" rx="24.65" ry="23.40" fill="url(#rimg)"/><ellipse cx="228.10" cy="701.75" rx="23.50" ry="22.15" fill="url(#dropg)"/><path d="M216.17,721.06 A23.85,23.05 0 0 0 240.73,721.06" stroke="#f0f0f0" stroke-width="1.3" fill="none"/><ellipse cx="227.40" cy="697.25" rx="3.15" ry="3.90" fill="#282828" filter="url(#blur2)"/><path d="M222.15,702.12 A5.25,4.23 0 0 0 232.65,702.12 A5.25,2.27 0 0 0 222.15,702.12 Z" fill="#fff" filter="url(#blur05)"/><line x1="236.83" y1="687.73" x2="241.51" y2="691.71" stroke="#7d8c98" stroke-width="1.0" stroke-linecap="round" filter="url(#blur03)"/><polyline points="200.90,708.70 229.00,738.40 256.80,704.70" stroke="#a8e2e2" stroke-width="1.1" fill="none"/></g>
<g><path d="M297.50,796.20 L364.80,793.20 L364.80,818.80 L297.50,818.80Z" fill="url(#subg)"/><ellipse cx="330.65" cy="779.50" rx="26.65" ry="26.50" fill="url(#rimg)"/><ellipse cx="330.30" cy="779.95" rx="25.50" ry="25.25" fill="url(#dropg)"/><path d="M317.34,801.91 A25.85,26.15 0 0 0 343.96,801.91" stroke="#f0f0f0" stroke-width="1.3" fill="none"/><ellipse cx="330.80" cy="772.62" rx="5.31" ry="7.68" fill="#3a3a3a" filter="url(#blur2)"/><ellipse cx="330.80" cy="780.30" rx="8.85" ry="6.40" fill="#fff" filter="url(#blur05)"/><polyline points="302.70,792.30 328.40,814.00 363.70,787.50" stroke="#a8e2e2" stroke-width="1.1" fill="none"/></g>
<g><line x1="465.30" y1="784.60" x2="465.30" y2="851.20" stroke="#262626" stroke-width="1"/><path d="M399.00,830.40 L465.80,828.30 L465.80,851.20 L399.00,851.20Z" fill="url(#subg)"/><ellipse cx="430.55" cy="814.30" rx="26.25" ry="22.50" fill="url(#rimg)"/><ellipse cx="430.20" cy="814.75" rx="25.10" ry="21.25" fill="url(#dropg)"/><path d="M417.44,833.29 A25.45,22.15 0 0 0 443.66,833.29" stroke="#f0f0f0" stroke-width="1.3" fill="none"/><ellipse cx="431.60" cy="811.40" rx="4.80" ry="6.60" fill="#3a3a3a" filter="url(#blur2)"/><ellipse cx="431.60" cy="818.00" rx="8.00" ry="5.50" fill="#fff" filter="url(#blur05)"/><polyline points="401.10,824.40 428.40,843.20 458.90,828.00" stroke="#a8e2e2" stroke-width="1.1" fill="none"/></g>
<g><line x1="498.70" y1="854.60" x2="498.70" y2="919.20" stroke="#262626" stroke-width="1"/><line x1="564.00" y1="854.60" x2="564.00" y2="919.20" stroke="#262626" stroke-width="1"/><path d="M498.20,896.40 L564.50,896.40 L564.50,919.20 L498.20,919.20Z" fill="url(#subg)"/><ellipse cx="533.60" cy="884.95" rx="24.50" ry="21.85" fill="url(#rimg)"/><ellipse cx="533.25" cy="885.40" rx="23.35" ry="20.60" fill="url(#dropg)"/><path d="M521.39,903.38 A23.70,21.50 0 0 0 545.81,903.38" stroke="#f0f0f0" stroke-width="1.3" fill="none"/><ellipse cx="534.00" cy="881.70" rx="4.80" ry="6.60" fill="#3a3a3a" filter="url(#blur2)"/><ellipse cx="534.00" cy="888.30" rx="8.00" ry="5.50" fill="#fff" filter="url(#blur05)"/><polyline points="498.20,887.50 534.50,913.20 562.10,889.60" stroke="#a8e2e2" stroke-width="1.1" fill="none"/></g>
<g><line x1="600.50" y1="959.90" x2="600.50" y2="1032.30" stroke="#262626" stroke-width="1"/><line x1="666.30" y1="959.90" x2="666.30" y2="1032.30" stroke="#262626" stroke-width="1"/><path d="M600.00,1005.60 L666.80,1005.60 L666.80,1032.30 L600.00,1032.30Z" fill="url(#subg)"/><ellipse cx="631.70" cy="989.60" rx="26.30" ry="21.90" fill="url(#rimg)"/><ellipse cx="631.35" cy="990.05" rx="25.15" ry="20.65" fill="url(#dropg)"/><path d="M618.57,1008.07 A25.50,21.55 0 0 0 644.83,1008.07" stroke="#f0f0f0" stroke-width="1.3" fill="none"/><ellipse cx="631.70" cy="985.42" rx="3.51" ry="3.72" fill="#282828" filter="url(#blur2)"/><path d="M625.85,990.07 A5.85,4.03 0 0 0 637.55,990.07 A5.85,2.17 0 0 0 625.85,990.07 Z" fill="#fff" filter="url(#blur05)"/><line x1="640.64" y1="976.90" x2="645.64" y2="980.62" stroke="#7d8c98" stroke-width="1.0" stroke-linecap="round" filter="url(#blur03)"/><polyline points="600.30,997.60 633.20,1019.50 666.00,993.90" stroke="#a8e2e2" stroke-width="1.1" fill="none"/></g></svg>
</body></html>
